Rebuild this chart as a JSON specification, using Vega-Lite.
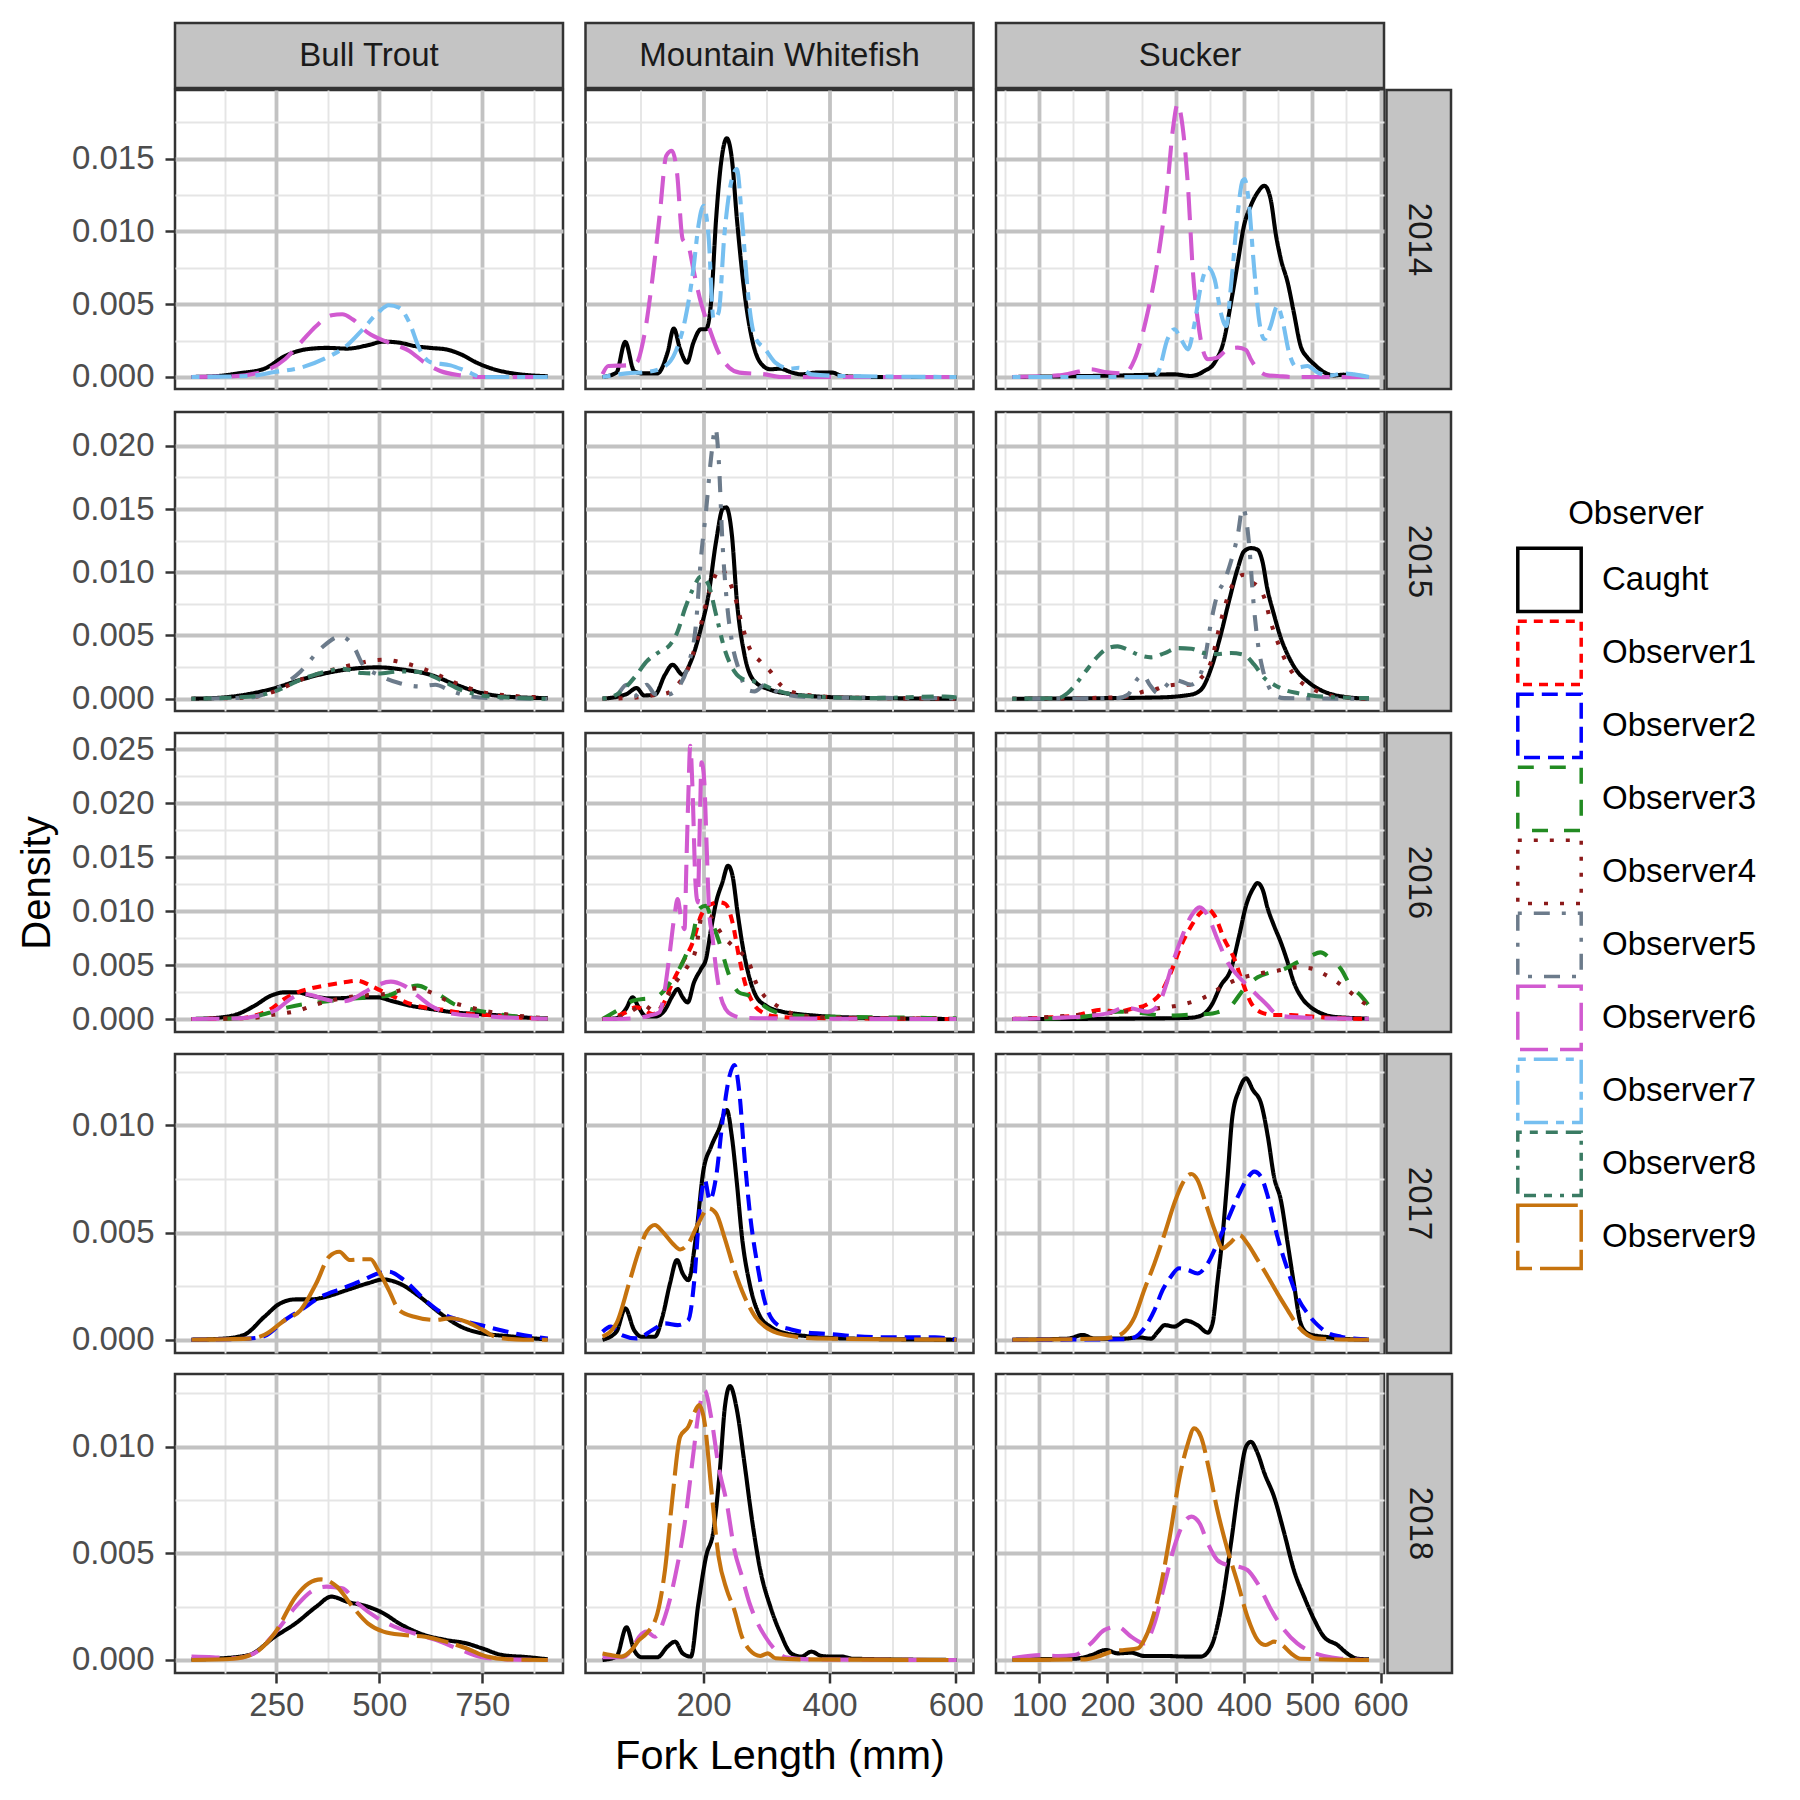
{
"$schema": "https://vega.github.io/schema/vega-lite/v6.json",
"background": "white",
"padding": {"left": 16, "top": 21, "right": 5, "bottom": 5},
"config": {
 "font": "Liberation Sans",
 "view": {"stroke": "#333333", "strokeWidth": 2.5, "fill": "white"},
 "range": {"category": ["#000000","#FF0000","#0000FF","#228B22","#8B1A1A","#6C7B8B","#D15AD0","#76BFF0","#3A7B63","#C6730E"]},
 "axis": {"labelFont": "Liberation Sans", "labelFontSize": 33, "labelColor": "#4d4d4d", "tickColor": "#333333", "tickWidth": 2.5, "tickSize": 10, "titleFont": "Liberation Sans", "titleFontSize": 40, "titleFontWeight": "normal", "titleColor": "#000000", "labelOverlap": false, "labelFlush": false, "domain": false, "grid": true},
 "axisX": {"labelPadding": 6.5, "titlePadding": 13, "titleFontSize": 41.5},
 "axisY": {"labelPadding": 11, "titlePadding": 14},
 "legend": {"orient": "none", "legendX": 1341, "legendY": 475, "padding": 0, "titleFont": "Liberation Sans", "titleFontSize": 33, "titleFontWeight": "normal", "titleColor": "#000000", "titleAnchor": "middle", "titlePadding": 15.4, "labelFont": "Liberation Sans", "labelFontSize": 33, "labelColor": "#000000", "labelOffset": 19, "symbolType": "square", "symbolSize": 4020, "symbolStrokeWidth": 3.5, "symbolFillColor": "transparent", "rowPadding": -6}
},
"datasets": {
"bt14": [
{"o":"Caught","x":44,"d":0},{"o":"Caught","x":100,"d":0.00005},{"o":"Caught","x":158,"d":0.00025},{"o":"Caught","x":221,"d":0.00057},{"o":"Caught","x":271,"d":0.00144},{"o":"Caught","x":322,"d":0.0019},{"o":"Caught","x":372,"d":0.002},{"o":"Caught","x":422,"d":0.00195},{"o":"Caught","x":472,"d":0.00218},{"o":"Caught","x":510,"d":0.00243},{"o":"Caught","x":548,"d":0.00236},{"o":"Caught","x":585,"d":0.00213},{"o":"Caught","x":623,"d":0.002},{"o":"Caught","x":661,"d":0.0019},{"o":"Caught","x":698,"d":0.00156},{"o":"Caught","x":736,"d":0.00099},{"o":"Caught","x":774,"d":0.00057},{"o":"Caught","x":824,"d":0.00025},{"o":"Caught","x":874,"d":0.0001},{"o":"Caught","x":909,"d":0.00005},
{"o":"Observer6","x":44,"d":0},{"o":"Observer6","x":146,"d":0.00005},{"o":"Observer6","x":221,"d":0.00041},{"o":"Observer6","x":271,"d":0.00122},{"o":"Observer6","x":309,"d":0.00236},{"o":"Observer6","x":347,"d":0.00351},{"o":"Observer6","x":384,"d":0.00424},{"o":"Observer6","x":410,"d":0.00431},{"o":"Observer6","x":435,"d":0.00397},{"o":"Observer6","x":472,"d":0.00305},{"o":"Observer6","x":523,"d":0.00236},{"o":"Observer6","x":573,"d":0.00179},{"o":"Observer6","x":610,"d":0.00099},{"o":"Observer6","x":648,"d":0.00041},{"o":"Observer6","x":698,"d":0.00011},{"o":"Observer6","x":749,"d":0},{"o":"Observer6","x":909,"d":0},
{"o":"Observer7","x":44,"d":0},{"o":"Observer7","x":183,"d":0.00007},{"o":"Observer7","x":246,"d":0.00034},{"o":"Observer7","x":309,"d":0.00064},{"o":"Observer7","x":372,"d":0.00133},{"o":"Observer7","x":422,"d":0.00218},{"o":"Observer7","x":460,"d":0.00328},{"o":"Observer7","x":497,"d":0.00443},{"o":"Observer7","x":523,"d":0.00493},{"o":"Observer7","x":548,"d":0.00477},{"o":"Observer7","x":573,"d":0.00374},{"o":"Observer7","x":598,"d":0.0019},{"o":"Observer7","x":623,"d":0.00103},{"o":"Observer7","x":673,"d":0.0008},{"o":"Observer7","x":711,"d":0.00041},{"o":"Observer7","x":749,"d":0},{"o":"Observer7","x":909,"d":0}
],
"mw14": [
{"o":"Caught","x":40,"d":0},{"o":"Caught","x":62,"d":0.0003},{"o":"Caught","x":76,"d":0.00241},{"o":"Caught","x":90,"d":0.00041},{"o":"Caught","x":102,"d":0.00025},{"o":"Caught","x":127,"d":0.00025},{"o":"Caught","x":143,"d":0.00167},{"o":"Caught","x":153,"d":0.00333},{"o":"Caught","x":163,"d":0.0019},{"o":"Caught","x":174,"d":0.00099},{"o":"Caught","x":184,"d":0.00236},{"o":"Caught","x":196,"d":0.00328},{"o":"Caught","x":204,"d":0.00328},{"o":"Caught","x":212,"d":0.00511},{"o":"Caught","x":220,"d":0.01085},{"o":"Caught","x":228,"d":0.01475},{"o":"Caught","x":237,"d":0.0164},{"o":"Caught","x":245,"d":0.01498},{"o":"Caught","x":253,"d":0.01085},{"o":"Caught","x":265,"d":0.0058},{"o":"Caught","x":277,"d":0.00259},{"o":"Caught","x":290,"d":0.00099},{"o":"Caught","x":306,"d":0.00053},{"o":"Caught","x":322,"d":0.00057},{"o":"Caught","x":338,"d":0.00034},{"o":"Caught","x":355,"d":0.00018},{"o":"Caught","x":379,"d":0.0003},{"o":"Caught","x":404,"d":0.0003},{"o":"Caught","x":420,"d":0.00007},{"o":"Caught","x":461,"d":0},{"o":"Caught","x":601,"d":0},
{"o":"Observer6","x":40,"d":0.0002},{"o":"Observer6","x":49,"d":0.00076},{"o":"Observer6","x":78,"d":0.0008},{"o":"Observer6","x":94,"d":0.00099},{"o":"Observer6","x":106,"d":0.00282},{"o":"Observer6","x":119,"d":0.00672},{"o":"Observer6","x":131,"d":0.01131},{"o":"Observer6","x":141,"d":0.01521},{"o":"Observer6","x":150,"d":0.01555},{"o":"Observer6","x":158,"d":0.01406},{"o":"Observer6","x":167,"d":0.00947},{"o":"Observer6","x":176,"d":0.00901},{"o":"Observer6","x":185,"d":0.00718},{"o":"Observer6","x":196,"d":0.00511},{"o":"Observer6","x":208,"d":0.00351},{"o":"Observer6","x":224,"d":0.00167},{"o":"Observer6","x":241,"d":0.00064},{"o":"Observer6","x":257,"d":0.0003},{"o":"Observer6","x":298,"d":0.00018},{"o":"Observer6","x":322,"d":0},{"o":"Observer6","x":601,"d":0},
{"o":"Observer7","x":40,"d":0},{"o":"Observer7","x":78,"d":0.00025},{"o":"Observer7","x":110,"d":0.00034},{"o":"Observer7","x":135,"d":0.00064},{"o":"Observer7","x":155,"d":0.00167},{"o":"Observer7","x":171,"d":0.00397},{"o":"Observer7","x":184,"d":0.00741},{"o":"Observer7","x":192,"d":0.01039},{"o":"Observer7","x":200,"d":0.01177},{"o":"Observer7","x":208,"d":0.0097},{"o":"Observer7","x":216,"d":0.00397},{"o":"Observer7","x":224,"d":0.00443},{"o":"Observer7","x":233,"d":0.0097},{"o":"Observer7","x":245,"d":0.0136},{"o":"Observer7","x":253,"d":0.01429},{"o":"Observer7","x":261,"d":0.01085},{"o":"Observer7","x":272,"d":0.00511},{"o":"Observer7","x":281,"d":0.00282},{"o":"Observer7","x":298,"d":0.0019},{"o":"Observer7","x":314,"d":0.00099},{"o":"Observer7","x":338,"d":0.00057},{"o":"Observer7","x":351,"d":0.00064},{"o":"Observer7","x":371,"d":0.00018},{"o":"Observer7","x":420,"d":0.00007},{"o":"Observer7","x":601,"d":0}
],
"su14": [
{"o":"Caught","x":61,"d":0},{"o":"Caught","x":225,"d":0.00011},{"o":"Caught","x":298,"d":0.00018},{"o":"Caught","x":322,"d":0.00007},{"o":"Caught","x":342,"d":0.00041},{"o":"Caught","x":357,"d":0.00099},{"o":"Caught","x":371,"d":0.00259},{"o":"Caught","x":381,"d":0.00511},{"o":"Caught","x":391,"d":0.00787},{"o":"Caught","x":400,"d":0.01039},{"o":"Caught","x":410,"d":0.01177},{"o":"Caught","x":420,"d":0.01268},{"o":"Caught","x":430,"d":0.01314},{"o":"Caught","x":439,"d":0.01222},{"o":"Caught","x":447,"d":0.0097},{"o":"Caught","x":454,"d":0.0081},{"o":"Caught","x":464,"d":0.00649},{"o":"Caught","x":473,"d":0.00443},{"o":"Caught","x":483,"d":0.00213},{"o":"Caught","x":493,"d":0.00133},{"o":"Caught","x":503,"d":0.00087},{"o":"Caught","x":517,"d":0.00034},{"o":"Caught","x":532,"d":0.00011},{"o":"Caught","x":546,"d":0.00016},{"o":"Caught","x":561,"d":0.00002},{"o":"Caught","x":583,"d":0},
{"o":"Observer6","x":61,"d":0},{"o":"Observer6","x":128,"d":0.00011},{"o":"Observer6","x":147,"d":0.00025},{"o":"Observer6","x":176,"d":0.00053},{"o":"Observer6","x":196,"d":0.00034},{"o":"Observer6","x":225,"d":0.00025},{"o":"Observer6","x":240,"d":0.00122},{"o":"Observer6","x":259,"d":0.00443},{"o":"Observer6","x":274,"d":0.0081},{"o":"Observer6","x":288,"d":0.01314},{"o":"Observer6","x":296,"d":0.01704},{"o":"Observer6","x":303,"d":0.01876},{"o":"Observer6","x":310,"d":0.01727},{"o":"Observer6","x":318,"d":0.01314},{"o":"Observer6","x":325,"d":0.00741},{"o":"Observer6","x":335,"d":0.00305},{"o":"Observer6","x":347,"d":0.00122},{"o":"Observer6","x":361,"d":0.00133},{"o":"Observer6","x":376,"d":0.0019},{"o":"Observer6","x":391,"d":0.00202},{"o":"Observer6","x":403,"d":0.00186},{"o":"Observer6","x":410,"d":0.00122},{"o":"Observer6","x":420,"d":0.00053},{"o":"Observer6","x":435,"d":0.00011},{"o":"Observer6","x":449,"d":0.00007},{"o":"Observer6","x":470,"d":0},{"o":"Observer6","x":583,"d":0},
{"o":"Observer7","x":61,"d":0},{"o":"Observer7","x":264,"d":0},{"o":"Observer7","x":274,"d":0.0003},{"o":"Observer7","x":288,"d":0.00259},{"o":"Observer7","x":298,"d":0.00328},{"o":"Observer7","x":308,"d":0.00259},{"o":"Observer7","x":318,"d":0.0019},{"o":"Observer7","x":327,"d":0.00351},{"o":"Observer7","x":337,"d":0.00626},{"o":"Observer7","x":347,"d":0.00752},{"o":"Observer7","x":357,"d":0.00672},{"o":"Observer7","x":366,"d":0.00443},{"o":"Observer7","x":374,"d":0.00351},{"o":"Observer7","x":381,"d":0.00626},{"o":"Observer7","x":391,"d":0.01131},{"o":"Observer7","x":398,"d":0.01349},{"o":"Observer7","x":401,"d":0.0136},{"o":"Observer7","x":406,"d":0.01245},{"o":"Observer7","x":415,"d":0.00741},{"o":"Observer7","x":422,"d":0.00397},{"o":"Observer7","x":430,"d":0.00259},{"o":"Observer7","x":439,"d":0.00351},{"o":"Observer7","x":449,"d":0.00489},{"o":"Observer7","x":456,"d":0.00397},{"o":"Observer7","x":466,"d":0.00167},{"o":"Observer7","x":478,"d":0.00064},{"o":"Observer7","x":493,"d":0.00076},{"o":"Observer7","x":508,"d":0.0003},{"o":"Observer7","x":527,"d":0.00011},{"o":"Observer7","x":546,"d":0.00025},{"o":"Observer7","x":561,"d":0.00018},{"o":"Observer7","x":583,"d":0}
],
"bt15": [
{"o":"Caught","x":44,"d":0},{"o":"Caught","x":121,"d":0.0001},{"o":"Caught","x":183,"d":0.00037},{"o":"Caught","x":246,"d":0.00084},{"o":"Caught","x":309,"d":0.0015},{"o":"Caught","x":372,"d":0.00203},{"o":"Caught","x":435,"d":0.00237},{"o":"Caught","x":497,"d":0.00248},{"o":"Caught","x":560,"d":0.00229},{"o":"Caught","x":623,"d":0.0019},{"o":"Caught","x":686,"d":0.00111},{"o":"Caught","x":749,"d":0.00045},{"o":"Caught","x":811,"d":0.00016},{"o":"Caught","x":909,"d":0.00005},
{"o":"Observer4","x":44,"d":0},{"o":"Observer4","x":183,"d":0.0001},{"o":"Observer4","x":246,"d":0.00058},{"o":"Observer4","x":309,"d":0.0015},{"o":"Observer4","x":372,"d":0.00216},{"o":"Observer4","x":435,"d":0.00269},{"o":"Observer4","x":510,"d":0.00308},{"o":"Observer4","x":560,"d":0.00282},{"o":"Observer4","x":623,"d":0.00216},{"o":"Observer4","x":686,"d":0.00124},{"o":"Observer4","x":749,"d":0.00053},{"o":"Observer4","x":811,"d":0.00026},{"o":"Observer4","x":909,"d":0.0001},
{"o":"Observer5","x":44,"d":0},{"o":"Observer5","x":183,"d":0.0001},{"o":"Observer5","x":246,"d":0.00071},{"o":"Observer5","x":309,"d":0.00216},{"o":"Observer5","x":359,"d":0.004},{"o":"Observer5","x":406,"d":0.00493},{"o":"Observer5","x":440,"d":0.004},{"o":"Observer5","x":460,"d":0.00269},{"o":"Observer5","x":497,"d":0.0019},{"o":"Observer5","x":548,"d":0.00124},{"o":"Observer5","x":598,"d":0.00097},{"o":"Observer5","x":636,"d":0.00111},{"o":"Observer5","x":673,"d":0.00063},{"o":"Observer5","x":711,"d":0.00026},{"o":"Observer5","x":774,"d":0.00005},{"o":"Observer5","x":909,"d":0},
{"o":"Observer8","x":44,"d":0},{"o":"Observer8","x":183,"d":0.00016},{"o":"Observer8","x":246,"d":0.00058},{"o":"Observer8","x":309,"d":0.0015},{"o":"Observer8","x":372,"d":0.00216},{"o":"Observer8","x":409,"d":0.00237},{"o":"Observer8","x":460,"d":0.00203},{"o":"Observer8","x":497,"d":0.002},{"o":"Observer8","x":548,"d":0.00216},{"o":"Observer8","x":598,"d":0.00211},{"o":"Observer8","x":648,"d":0.0015},{"o":"Observer8","x":698,"d":0.00071},{"o":"Observer8","x":749,"d":0.00026},{"o":"Observer8","x":811,"d":0.0001},{"o":"Observer8","x":909,"d":0}
],
"mw15": [
{"o":"Caught","x":40,"d":0},{"o":"Caught","x":78,"d":0.00037},{"o":"Caught","x":94,"d":0.00084},{"o":"Caught","x":106,"d":0.00026},{"o":"Caught","x":123,"d":0.00032},{"o":"Caught","x":139,"d":0.0019},{"o":"Caught","x":151,"d":0.00269},{"o":"Caught","x":167,"d":0.0019},{"o":"Caught","x":180,"d":0.00295},{"o":"Caught","x":196,"d":0.00559},{"o":"Caught","x":208,"d":0.00822},{"o":"Caught","x":220,"d":0.01244},{"o":"Caught","x":231,"d":0.01507},{"o":"Caught","x":236,"d":0.01513},{"o":"Caught","x":245,"d":0.01296},{"o":"Caught","x":253,"d":0.00769},{"o":"Caught","x":265,"d":0.00348},{"o":"Caught","x":281,"d":0.00137},{"o":"Caught","x":306,"d":0.00071},{"o":"Caught","x":338,"d":0.00037},{"o":"Caught","x":379,"d":0.00018},{"o":"Caught","x":420,"d":0.0001},{"o":"Caught","x":601,"d":0},
{"o":"Observer4","x":40,"d":0},{"o":"Observer4","x":94,"d":0.0001},{"o":"Observer4","x":127,"d":0.00032},{"o":"Observer4","x":143,"d":0.00045},{"o":"Observer4","x":159,"d":0.00111},{"o":"Observer4","x":176,"d":0.00243},{"o":"Observer4","x":192,"d":0.00506},{"o":"Observer4","x":208,"d":0.00822},{"o":"Observer4","x":228,"d":0.01033},{"o":"Observer4","x":237,"d":0.00967},{"o":"Observer4","x":249,"d":0.00822},{"o":"Observer4","x":261,"d":0.00585},{"o":"Observer4","x":273,"d":0.004},{"o":"Observer4","x":290,"d":0.00295},{"o":"Observer4","x":306,"d":0.00216},{"o":"Observer4","x":322,"d":0.00111},{"o":"Observer4","x":338,"d":0.00058},{"o":"Observer4","x":371,"d":0.00026},{"o":"Observer4","x":420,"d":0.0001},{"o":"Observer4","x":601,"d":0},
{"o":"Observer5","x":40,"d":0},{"o":"Observer5","x":62,"d":0.00026},{"o":"Observer5","x":78,"d":0.00111},{"o":"Observer5","x":90,"d":0.00018},{"o":"Observer5","x":110,"d":0.00111},{"o":"Observer5","x":123,"d":0.00037},{"o":"Observer5","x":143,"d":0.00032},{"o":"Observer5","x":163,"d":0.00111},{"o":"Observer5","x":176,"d":0.00269},{"o":"Observer5","x":188,"d":0.00585},{"o":"Observer5","x":196,"d":0.01112},{"o":"Observer5","x":204,"d":0.01481},{"o":"Observer5","x":212,"d":0.01903},{"o":"Observer5","x":219,"d":0.0214},{"o":"Observer5","x":224,"d":0.01903},{"o":"Observer5","x":230,"d":0.01244},{"o":"Observer5","x":237,"d":0.00769},{"o":"Observer5","x":245,"d":0.00453},{"o":"Observer5","x":257,"d":0.00216},{"o":"Observer5","x":269,"d":0.00071},{"o":"Observer5","x":281,"d":0.00058},{"o":"Observer5","x":298,"d":0.00111},{"o":"Observer5","x":314,"d":0.00063},{"o":"Observer5","x":338,"d":0.00026},{"o":"Observer5","x":379,"d":0.0001},{"o":"Observer5","x":601,"d":0.00005},
{"o":"Observer8","x":40,"d":0},{"o":"Observer8","x":62,"d":0.00032},{"o":"Observer8","x":78,"d":0.00097},{"o":"Observer8","x":94,"d":0.0019},{"o":"Observer8","x":110,"d":0.00295},{"o":"Observer8","x":131,"d":0.00374},{"o":"Observer8","x":147,"d":0.00427},{"o":"Observer8","x":159,"d":0.00532},{"o":"Observer8","x":171,"d":0.00717},{"o":"Observer8","x":184,"d":0.00875},{"o":"Observer8","x":196,"d":0.00967},{"o":"Observer8","x":208,"d":0.00901},{"o":"Observer8","x":220,"d":0.00664},{"o":"Observer8","x":233,"d":0.004},{"o":"Observer8","x":249,"d":0.00216},{"o":"Observer8","x":265,"d":0.0015},{"o":"Observer8","x":281,"d":0.00137},{"o":"Observer8","x":306,"d":0.00084},{"o":"Observer8","x":338,"d":0.00037},{"o":"Observer8","x":379,"d":0.00016},{"o":"Observer8","x":461,"d":0.00005},{"o":"Observer8","x":583,"d":0.00018},{"o":"Observer8","x":601,"d":0.0001}
],
"su15": [
{"o":"Caught","x":61,"d":0},{"o":"Caught","x":274,"d":0.0001},{"o":"Caught","x":322,"d":0.00032},{"o":"Caught","x":337,"d":0.00071},{"o":"Caught","x":352,"d":0.00242},{"o":"Caught","x":366,"d":0.00506},{"o":"Caught","x":378,"d":0.0077},{"o":"Caught","x":391,"d":0.01033},{"o":"Caught","x":400,"d":0.01165},{"o":"Caught","x":410,"d":0.01191},{"o":"Caught","x":420,"d":0.01178},{"o":"Caught","x":427,"d":0.01086},{"o":"Caught","x":434,"d":0.00875},{"o":"Caught","x":444,"d":0.00664},{"o":"Caught","x":454,"d":0.0048},{"o":"Caught","x":464,"d":0.00348},{"o":"Caught","x":478,"d":0.00216},{"o":"Caught","x":493,"d":0.00137},{"o":"Caught","x":507,"d":0.00084},{"o":"Caught","x":527,"d":0.00037},{"o":"Caught","x":546,"d":0.00016},{"o":"Caught","x":583,"d":0},
{"o":"Observer4","x":61,"d":0},{"o":"Observer4","x":215,"d":0.0001},{"o":"Observer4","x":240,"d":0.00032},{"o":"Observer4","x":254,"d":0.00058},{"o":"Observer4","x":264,"d":0.00063},{"o":"Observer4","x":283,"d":0.00097},{"o":"Observer4","x":303,"d":0.00111},{"o":"Observer4","x":322,"d":0.00111},{"o":"Observer4","x":337,"d":0.00163},{"o":"Observer4","x":352,"d":0.00295},{"o":"Observer4","x":366,"d":0.00611},{"o":"Observer4","x":381,"d":0.00875},{"o":"Observer4","x":393,"d":0.00967},{"o":"Observer4","x":400,"d":0.0098},{"o":"Observer4","x":410,"d":0.00928},{"o":"Observer4","x":420,"d":0.00888},{"o":"Observer4","x":430,"d":0.00796},{"o":"Observer4","x":439,"d":0.00611},{"o":"Observer4","x":449,"d":0.00453},{"o":"Observer4","x":459,"d":0.00321},{"o":"Observer4","x":473,"d":0.0019},{"o":"Observer4","x":488,"d":0.00111},{"o":"Observer4","x":503,"d":0.00071},{"o":"Observer4","x":517,"d":0.00037},{"o":"Observer4","x":537,"d":0.00016},{"o":"Observer4","x":583,"d":0},
{"o":"Observer5","x":61,"d":0},{"o":"Observer5","x":215,"d":0.00005},{"o":"Observer5","x":230,"d":0.00032},{"o":"Observer5","x":245,"d":0.00163},{"o":"Observer5","x":252,"d":0.0019},{"o":"Observer5","x":262,"d":0.00111},{"o":"Observer5","x":274,"d":0.00045},{"o":"Observer5","x":283,"d":0.00084},{"o":"Observer5","x":296,"d":0.0015},{"o":"Observer5","x":308,"d":0.00137},{"o":"Observer5","x":322,"d":0.00111},{"o":"Observer5","x":332,"d":0.0015},{"o":"Observer5","x":342,"d":0.00295},{"o":"Observer5","x":352,"d":0.00611},{"o":"Observer5","x":361,"d":0.00822},{"o":"Observer5","x":371,"d":0.00928},{"o":"Observer5","x":381,"d":0.01086},{"o":"Observer5","x":391,"d":0.01296},{"o":"Observer5","x":398,"d":0.01507},{"o":"Observer5","x":403,"d":0.01428},{"o":"Observer5","x":408,"d":0.01191},{"o":"Observer5","x":413,"d":0.00822},{"o":"Observer5","x":420,"d":0.00453},{"o":"Observer5","x":427,"d":0.00242},{"o":"Observer5","x":435,"d":0.00111},{"o":"Observer5","x":444,"d":0.00032},{"o":"Observer5","x":459,"d":0.00005},{"o":"Observer5","x":583,"d":0},
{"o":"Observer8","x":61,"d":0},{"o":"Observer8","x":128,"d":0.00005},{"o":"Observer8","x":142,"d":0.00045},{"o":"Observer8","x":157,"d":0.00137},{"o":"Observer8","x":172,"d":0.00242},{"o":"Observer8","x":186,"d":0.00335},{"o":"Observer8","x":201,"d":0.004},{"o":"Observer8","x":215,"d":0.00414},{"o":"Observer8","x":230,"d":0.00387},{"o":"Observer8","x":245,"d":0.00348},{"o":"Observer8","x":264,"d":0.00327},{"o":"Observer8","x":284,"d":0.00361},{"o":"Observer8","x":303,"d":0.004},{"o":"Observer8","x":323,"d":0.00395},{"o":"Observer8","x":342,"d":0.00361},{"o":"Observer8","x":361,"d":0.00353},{"o":"Observer8","x":381,"d":0.00361},{"o":"Observer8","x":400,"d":0.00348},{"o":"Observer8","x":415,"d":0.00269},{"o":"Observer8","x":430,"d":0.00163},{"o":"Observer8","x":444,"d":0.00111},{"o":"Observer8","x":459,"d":0.00071},{"o":"Observer8","x":478,"d":0.00045},{"o":"Observer8","x":498,"d":0.00026},{"o":"Observer8","x":517,"d":0.00016},{"o":"Observer8","x":583,"d":0.00005}
],
"bt16": [
{"o":"Caught","x":44,"d":0},{"o":"Caught","x":116,"d":0.00015},{"o":"Caught","x":156,"d":0.00046},{"o":"Caught","x":197,"d":0.00123},{"o":"Caught","x":237,"d":0.00216},{"o":"Caught","x":269,"d":0.00247},{"o":"Caught","x":302,"d":0.00247},{"o":"Caught","x":334,"d":0.00216},{"o":"Caught","x":383,"d":0.00191},{"o":"Caught","x":439,"d":0.00198},{"o":"Caught","x":496,"d":0.00201},{"o":"Caught","x":528,"d":0.0017},{"o":"Caught","x":576,"d":0.00123},{"o":"Caught","x":625,"d":0.00093},{"o":"Caught","x":681,"d":0.00062},{"o":"Caught","x":738,"d":0.00046},{"o":"Caught","x":803,"d":0.00031},{"o":"Caught","x":851,"d":0.00015},{"o":"Caught","x":909,"d":0.00006},
{"o":"Observer1","x":44,"d":0},{"o":"Observer1","x":156,"d":0.00006},{"o":"Observer1","x":197,"d":0.00031},{"o":"Observer1","x":237,"d":0.00093},{"o":"Observer1","x":269,"d":0.00185},{"o":"Observer1","x":302,"d":0.00247},{"o":"Observer1","x":334,"d":0.00284},{"o":"Observer1","x":374,"d":0.00315},{"o":"Observer1","x":415,"d":0.0034},{"o":"Observer1","x":447,"d":0.00355},{"o":"Observer1","x":479,"d":0.00309},{"o":"Observer1","x":512,"d":0.00247},{"o":"Observer1","x":544,"d":0.00191},{"o":"Observer1","x":576,"d":0.00139},{"o":"Observer1","x":609,"d":0.00108},{"o":"Observer1","x":641,"d":0.00093},{"o":"Observer1","x":681,"d":0.00068},{"o":"Observer1","x":722,"d":0.00046},{"o":"Observer1","x":762,"d":0.00037},{"o":"Observer1","x":803,"d":0.00025},{"o":"Observer1","x":851,"d":0.00012},{"o":"Observer1","x":909,"d":0.00003},
{"o":"Observer3","x":44,"d":0},{"o":"Observer3","x":156,"d":0.00006},{"o":"Observer3","x":205,"d":0.00031},{"o":"Observer3","x":237,"d":0.00062},{"o":"Observer3","x":278,"d":0.00108},{"o":"Observer3","x":318,"d":0.00139},{"o":"Observer3","x":342,"d":0.00148},{"o":"Observer3","x":383,"d":0.0017},{"o":"Observer3","x":439,"d":0.00191},{"o":"Observer3","x":479,"d":0.00201},{"o":"Observer3","x":520,"d":0.00216},{"o":"Observer3","x":560,"d":0.00278},{"o":"Observer3","x":593,"d":0.00309},{"o":"Observer3","x":625,"d":0.00262},{"o":"Observer3","x":649,"d":0.00216},{"o":"Observer3","x":681,"d":0.00139},{"o":"Observer3","x":722,"d":0.00093},{"o":"Observer3","x":762,"d":0.00062},{"o":"Observer3","x":803,"d":0.00037},{"o":"Observer3","x":851,"d":0.00019},{"o":"Observer3","x":909,"d":0.00003},
{"o":"Observer4","x":44,"d":0},{"o":"Observer4","x":197,"d":0.00012},{"o":"Observer4","x":237,"d":0.00037},{"o":"Observer4","x":302,"d":0.00077},{"o":"Observer4","x":350,"d":0.00139},{"o":"Observer4","x":399,"d":0.00185},{"o":"Observer4","x":455,"d":0.00216},{"o":"Observer4","x":512,"d":0.00231},{"o":"Observer4","x":560,"d":0.00272},{"o":"Observer4","x":593,"d":0.00284},{"o":"Observer4","x":625,"d":0.00247},{"o":"Observer4","x":665,"d":0.0017},{"o":"Observer4","x":706,"d":0.00123},{"o":"Observer4","x":754,"d":0.00077},{"o":"Observer4","x":803,"d":0.00046},{"o":"Observer4","x":851,"d":0.00025},{"o":"Observer4","x":909,"d":0.00006},
{"o":"Observer6","x":44,"d":0},{"o":"Observer6","x":156,"d":0.00006},{"o":"Observer6","x":205,"d":0.00031},{"o":"Observer6","x":253,"d":0.00093},{"o":"Observer6","x":286,"d":0.00191},{"o":"Observer6","x":310,"d":0.00231},{"o":"Observer6","x":334,"d":0.00222},{"o":"Observer6","x":366,"d":0.00185},{"o":"Observer6","x":399,"d":0.0016},{"o":"Observer6","x":431,"d":0.00179},{"o":"Observer6","x":463,"d":0.00247},{"o":"Observer6","x":496,"d":0.00315},{"o":"Observer6","x":528,"d":0.00346},{"o":"Observer6","x":560,"d":0.00309},{"o":"Observer6","x":593,"d":0.00216},{"o":"Observer6","x":625,"d":0.00123},{"o":"Observer6","x":657,"d":0.00068},{"o":"Observer6","x":706,"d":0.00037},{"o":"Observer6","x":762,"d":0.00025},{"o":"Observer6","x":843,"d":0.00009},{"o":"Observer6","x":909,"d":0.00003}
],
"mw16": [
{"o":"Caught","x":40,"d":0},{"o":"Caught","x":61,"d":0.00006},{"o":"Caught","x":77,"d":0.00093},{"o":"Caught","x":88,"d":0.00201},{"o":"Caught","x":96,"d":0.00123},{"o":"Caught","x":109,"d":0.00025},{"o":"Caught","x":125,"d":0.00025},{"o":"Caught","x":138,"d":0.00077},{"o":"Caught","x":151,"d":0.00216},{"o":"Caught","x":159,"d":0.00278},{"o":"Caught","x":167,"d":0.00201},{"o":"Caught","x":175,"d":0.00154},{"o":"Caught","x":185,"d":0.0034},{"o":"Caught","x":196,"d":0.00463},{"o":"Caught","x":204,"d":0.00556},{"o":"Caught","x":212,"d":0.00833},{"o":"Caught","x":220,"d":0.0108},{"o":"Caught","x":230,"d":0.01265},{"o":"Caught","x":239,"d":0.0142},{"o":"Caught","x":246,"d":0.01327},{"o":"Caught","x":254,"d":0.00988},{"o":"Caught","x":262,"d":0.00679},{"o":"Caught","x":272,"d":0.00401},{"o":"Caught","x":283,"d":0.00216},{"o":"Caught","x":299,"d":0.00123},{"o":"Caught","x":325,"d":0.00068},{"o":"Caught","x":351,"d":0.00046},{"o":"Caught","x":378,"d":0.00031},{"o":"Caught","x":430,"d":0.00015},{"o":"Caught","x":601,"d":0},
{"o":"Observer1","x":40,"d":0},{"o":"Observer1","x":61,"d":0.00025},{"o":"Observer1","x":77,"d":0.00062},{"o":"Observer1","x":93,"d":0.00108},{"o":"Observer1","x":104,"d":0.00093},{"o":"Observer1","x":119,"d":0.00046},{"o":"Observer1","x":135,"d":0.00123},{"o":"Observer1","x":151,"d":0.0034},{"o":"Observer1","x":167,"d":0.00525},{"o":"Observer1","x":183,"d":0.0071},{"o":"Observer1","x":196,"d":0.00957},{"o":"Observer1","x":209,"d":0.01056},{"o":"Observer1","x":225,"d":0.0108},{"o":"Observer1","x":235,"d":0.01065},{"o":"Observer1","x":246,"d":0.00895},{"o":"Observer1","x":256,"d":0.00586},{"o":"Observer1","x":267,"d":0.00309},{"o":"Observer1","x":278,"d":0.00154},{"o":"Observer1","x":293,"d":0.00062},{"o":"Observer1","x":314,"d":0.00025},{"o":"Observer1","x":351,"d":0.00012},{"o":"Observer1","x":601,"d":0},
{"o":"Observer3","x":40,"d":0},{"o":"Observer3","x":51,"d":0.00037},{"o":"Observer3","x":67,"d":0.00093},{"o":"Observer3","x":88,"d":0.0017},{"o":"Observer3","x":104,"d":0.00185},{"o":"Observer3","x":119,"d":0.00191},{"o":"Observer3","x":135,"d":0.00247},{"o":"Observer3","x":151,"d":0.0037},{"o":"Observer3","x":167,"d":0.00525},{"o":"Observer3","x":183,"d":0.00772},{"o":"Observer3","x":193,"d":0.01019},{"o":"Observer3","x":204,"d":0.01049},{"o":"Observer3","x":214,"d":0.00895},{"o":"Observer3","x":225,"d":0.0071},{"o":"Observer3","x":241,"d":0.00401},{"o":"Observer3","x":256,"d":0.00247},{"o":"Observer3","x":272,"d":0.00216},{"o":"Observer3","x":288,"d":0.00154},{"o":"Observer3","x":309,"d":0.00077},{"o":"Observer3","x":335,"d":0.00037},{"o":"Observer3","x":378,"d":0.00025},{"o":"Observer3","x":430,"d":0.00019},{"o":"Observer3","x":535,"d":0.00012},{"o":"Observer3","x":601,"d":0.00006},
{"o":"Observer4","x":40,"d":0},{"o":"Observer4","x":61,"d":0.00012},{"o":"Observer4","x":83,"d":0.00062},{"o":"Observer4","x":104,"d":0.0013},{"o":"Observer4","x":125,"d":0.00062},{"o":"Observer4","x":140,"d":0.00185},{"o":"Observer4","x":156,"d":0.0034},{"o":"Observer4","x":172,"d":0.00463},{"o":"Observer4","x":188,"d":0.00648},{"o":"Observer4","x":198,"d":0.00957},{"o":"Observer4","x":209,"d":0.00957},{"o":"Observer4","x":220,"d":0.00864},{"o":"Observer4","x":233,"d":0.00756},{"o":"Observer4","x":246,"d":0.00679},{"o":"Observer4","x":259,"d":0.00617},{"o":"Observer4","x":272,"d":0.00525},{"o":"Observer4","x":283,"d":0.0034},{"o":"Observer4","x":296,"d":0.00216},{"o":"Observer4","x":309,"d":0.00154},{"o":"Observer4","x":325,"d":0.00093},{"o":"Observer4","x":351,"d":0.00037},{"o":"Observer4","x":388,"d":0.00015},{"o":"Observer4","x":601,"d":0.00003},
{"o":"Observer6","x":40,"d":0},{"o":"Observer6","x":88,"d":0.00006},{"o":"Observer6","x":114,"d":0.00031},{"o":"Observer6","x":130,"d":0.00062},{"o":"Observer6","x":138,"d":0.00247},{"o":"Observer6","x":146,"d":0.00586},{"o":"Observer6","x":154,"d":0.00957},{"o":"Observer6","x":159,"d":0.01111},{"o":"Observer6","x":164,"d":0.00957},{"o":"Observer6","x":170,"d":0.00833},{"o":"Observer6","x":173,"d":0.01451},{"o":"Observer6","x":176,"d":0.02068},{"o":"Observer6","x":179,"d":0.02531},{"o":"Observer6","x":183,"d":0.02068},{"o":"Observer6","x":187,"d":0.01296},{"o":"Observer6","x":191,"d":0.0108},{"o":"Observer6","x":194,"d":0.01759},{"o":"Observer6","x":197,"d":0.02377},{"o":"Observer6","x":201,"d":0.02222},{"o":"Observer6","x":205,"d":0.01605},{"o":"Observer6","x":209,"d":0.00988},{"o":"Observer6","x":214,"d":0.00772},{"o":"Observer6","x":220,"d":0.00463},{"o":"Observer6","x":227,"d":0.00216},{"o":"Observer6","x":235,"d":0.00093},{"o":"Observer6","x":246,"d":0.00037},{"o":"Observer6","x":262,"d":0.00012},{"o":"Observer6","x":320,"d":0.00006},{"o":"Observer6","x":601,"d":0}
],
"su16": [
{"o":"Caught","x":61,"d":0},{"o":"Caught","x":274,"d":0.00006},{"o":"Caught","x":322,"d":0.00012},{"o":"Caught","x":337,"d":0.00031},{"o":"Caught","x":352,"d":0.00123},{"o":"Caught","x":366,"d":0.00309},{"o":"Caught","x":381,"d":0.00463},{"o":"Caught","x":393,"d":0.00772},{"o":"Caught","x":403,"d":0.01049},{"o":"Caught","x":413,"d":0.01204},{"o":"Caught","x":420,"d":0.01259},{"o":"Caught","x":427,"d":0.01204},{"o":"Caught","x":435,"d":0.01019},{"o":"Caught","x":444,"d":0.00864},{"o":"Caught","x":454,"d":0.0071},{"o":"Caught","x":464,"d":0.00525},{"o":"Caught","x":473,"d":0.0034},{"o":"Caught","x":486,"d":0.00185},{"o":"Caught","x":498,"d":0.00108},{"o":"Caught","x":512,"d":0.00056},{"o":"Caught","x":527,"d":0.00025},{"o":"Caught","x":551,"d":0.00012},{"o":"Caught","x":583,"d":0.00003},
{"o":"Observer1","x":61,"d":0},{"o":"Observer1","x":104,"d":0.00012},{"o":"Observer1","x":152,"d":0.00031},{"o":"Observer1","x":191,"d":0.00086},{"o":"Observer1","x":215,"d":0.00068},{"o":"Observer1","x":235,"d":0.00093},{"o":"Observer1","x":259,"d":0.00139},{"o":"Observer1","x":279,"d":0.00247},{"o":"Observer1","x":293,"d":0.00432},{"o":"Observer1","x":308,"d":0.00679},{"o":"Observer1","x":323,"d":0.00864},{"o":"Observer1","x":337,"d":0.00988},{"o":"Observer1","x":347,"d":0.01019},{"o":"Observer1","x":357,"d":0.00957},{"o":"Observer1","x":371,"d":0.00741},{"o":"Observer1","x":386,"d":0.00556},{"o":"Observer1","x":398,"d":0.0034},{"o":"Observer1","x":410,"d":0.00154},{"o":"Observer1","x":425,"d":0.00062},{"o":"Observer1","x":444,"d":0.00037},{"o":"Observer1","x":469,"d":0.00037},{"o":"Observer1","x":493,"d":0.00025},{"o":"Observer1","x":517,"d":0.00015},{"o":"Observer1","x":546,"d":0.00006},{"o":"Observer1","x":583,"d":0},
{"o":"Observer3","x":61,"d":0},{"o":"Observer3","x":152,"d":0.00012},{"o":"Observer3","x":176,"d":0.00031},{"o":"Observer3","x":215,"d":0.00068},{"o":"Observer3","x":250,"d":0.00056},{"o":"Observer3","x":284,"d":0.00031},{"o":"Observer3","x":313,"d":0.00037},{"o":"Observer3","x":332,"d":0.00043},{"o":"Observer3","x":347,"d":0.00046},{"o":"Observer3","x":361,"d":0.00062},{"o":"Observer3","x":381,"d":0.00123},{"o":"Observer3","x":400,"d":0.00278},{"o":"Observer3","x":420,"d":0.00386},{"o":"Observer3","x":439,"d":0.00432},{"o":"Observer3","x":459,"d":0.00463},{"o":"Observer3","x":478,"d":0.00525},{"o":"Observer3","x":498,"d":0.00586},{"o":"Observer3","x":512,"d":0.00617},{"o":"Observer3","x":527,"d":0.00556},{"o":"Observer3","x":542,"d":0.00463},{"o":"Observer3","x":556,"d":0.00309},{"o":"Observer3","x":571,"d":0.00216},{"o":"Observer3","x":583,"d":0.00123},
{"o":"Observer4","x":61,"d":0},{"o":"Observer4","x":129,"d":0.00025},{"o":"Observer4","x":176,"d":0.00046},{"o":"Observer4","x":225,"d":0.00068},{"o":"Observer4","x":274,"d":0.00099},{"o":"Observer4","x":313,"d":0.00139},{"o":"Observer4","x":342,"d":0.00201},{"o":"Observer4","x":371,"d":0.00309},{"o":"Observer4","x":391,"d":0.0037},{"o":"Observer4","x":420,"d":0.00417},{"o":"Observer4","x":449,"d":0.00448},{"o":"Observer4","x":478,"d":0.00478},{"o":"Observer4","x":498,"d":0.00469},{"o":"Observer4","x":517,"d":0.00417},{"o":"Observer4","x":537,"d":0.0034},{"o":"Observer4","x":556,"d":0.00247},{"o":"Observer4","x":571,"d":0.0017},{"o":"Observer4","x":583,"d":0.00117},
{"o":"Observer6","x":61,"d":0},{"o":"Observer6","x":129,"d":0.00012},{"o":"Observer6","x":176,"d":0.00031},{"o":"Observer6","x":206,"d":0.00062},{"o":"Observer6","x":225,"d":0.00108},{"o":"Observer6","x":240,"d":0.00093},{"o":"Observer6","x":259,"d":0.00068},{"o":"Observer6","x":274,"d":0.00123},{"o":"Observer6","x":284,"d":0.00278},{"o":"Observer6","x":296,"d":0.00525},{"o":"Observer6","x":308,"d":0.00741},{"o":"Observer6","x":323,"d":0.00957},{"o":"Observer6","x":335,"d":0.01034},{"o":"Observer6","x":347,"d":0.00957},{"o":"Observer6","x":361,"d":0.00741},{"o":"Observer6","x":376,"d":0.00525},{"o":"Observer6","x":391,"d":0.00401},{"o":"Observer6","x":405,"d":0.00309},{"o":"Observer6","x":420,"d":0.00216},{"o":"Observer6","x":435,"d":0.00123},{"o":"Observer6","x":444,"d":0.00062},{"o":"Observer6","x":459,"d":0.00025},{"o":"Observer6","x":493,"d":0.00012},{"o":"Observer6","x":583,"d":0.00003}
],
"bt17": [
{"o":"Caught","x":44,"d":0},{"o":"Caught","x":121,"d":0.00005},{"o":"Caught","x":171,"d":0.00022},{"o":"Caught","x":221,"d":0.00107},{"o":"Caught","x":259,"d":0.00169},{"o":"Caught","x":297,"d":0.00188},{"o":"Caught","x":334,"d":0.00188},{"o":"Caught","x":372,"d":0.00201},{"o":"Caught","x":422,"d":0.00232},{"o":"Caught","x":472,"d":0.00263},{"o":"Caught","x":510,"d":0.00281},{"o":"Caught","x":548,"d":0.00263},{"o":"Caught","x":598,"d":0.00201},{"o":"Caught","x":648,"d":0.00123},{"o":"Caught","x":698,"d":0.00061},{"o":"Caught","x":749,"d":0.0003},{"o":"Caught","x":811,"d":0.00017},{"o":"Caught","x":874,"d":0.00006},{"o":"Caught","x":909,"d":0.00002},
{"o":"Observer2","x":44,"d":0},{"o":"Observer2","x":183,"d":0.00005},{"o":"Observer2","x":221,"d":0.00017},{"o":"Observer2","x":271,"d":0.00092},{"o":"Observer2","x":309,"d":0.00138},{"o":"Observer2","x":359,"d":0.00201},{"o":"Observer2","x":410,"d":0.00239},{"o":"Observer2","x":460,"d":0.00278},{"o":"Observer2","x":497,"d":0.00309},{"o":"Observer2","x":523,"d":0.00317},{"o":"Observer2","x":560,"d":0.00278},{"o":"Observer2","x":611,"d":0.00185},{"o":"Observer2","x":661,"d":0.00115},{"o":"Observer2","x":711,"d":0.00084},{"o":"Observer2","x":761,"d":0.00061},{"o":"Observer2","x":811,"d":0.00037},{"o":"Observer2","x":874,"d":0.00014},{"o":"Observer2","x":909,"d":0.00005},
{"o":"Observer9","x":44,"d":0},{"o":"Observer9","x":183,"d":0.00005},{"o":"Observer9","x":221,"d":0.00022},{"o":"Observer9","x":271,"d":0.00092},{"o":"Observer9","x":309,"d":0.00138},{"o":"Observer9","x":347,"d":0.00263},{"o":"Observer9","x":378,"d":0.00387},{"o":"Observer9","x":403,"d":0.0041},{"o":"Observer9","x":428,"d":0.00372},{"o":"Observer9","x":454,"d":0.00375},{"o":"Observer9","x":479,"d":0.00375},{"o":"Observer9","x":497,"d":0.00325},{"o":"Observer9","x":523,"d":0.00232},{"o":"Observer9","x":548,"d":0.00138},{"o":"Observer9","x":585,"d":0.00107},{"o":"Observer9","x":636,"d":0.00092},{"o":"Observer9","x":673,"d":0.001},{"o":"Observer9","x":711,"d":0.00084},{"o":"Observer9","x":749,"d":0.00048},{"o":"Observer9","x":786,"d":0.00011},{"o":"Observer9","x":850,"d":0},{"o":"Observer9","x":909,"d":0}
],
"mw17": [
{"o":"Caught","x":40,"d":0},{"o":"Caught","x":62,"d":0.00037},{"o":"Caught","x":76,"d":0.00146},{"o":"Caught","x":90,"d":0.00045},{"o":"Caught","x":102,"d":0.00014},{"o":"Caught","x":123,"d":0.00014},{"o":"Caught","x":135,"d":0.00107},{"o":"Caught","x":147,"d":0.00263},{"o":"Caught","x":158,"d":0.00372},{"o":"Caught","x":167,"d":0.00309},{"o":"Caught","x":176,"d":0.00278},{"o":"Caught","x":188,"d":0.0048},{"o":"Caught","x":200,"d":0.00791},{"o":"Caught","x":212,"d":0.009},{"o":"Caught","x":224,"d":0.00978},{"o":"Caught","x":237,"d":0.01071},{"o":"Caught","x":245,"d":0.00947},{"o":"Caught","x":253,"d":0.00729},{"o":"Caught","x":261,"d":0.0048},{"o":"Caught","x":273,"d":0.00263},{"o":"Caught","x":290,"d":0.00107},{"o":"Caught","x":306,"d":0.00061},{"o":"Caught","x":330,"d":0.0003},{"o":"Caught","x":363,"d":0.00017},{"o":"Caught","x":420,"d":0.00006},{"o":"Caught","x":601,"d":0},
{"o":"Observer2","x":40,"d":0.00037},{"o":"Observer2","x":53,"d":0.00061},{"o":"Observer2","x":70,"d":0.00022},{"o":"Observer2","x":94,"d":0.00006},{"o":"Observer2","x":119,"d":0.00045},{"o":"Observer2","x":139,"d":0.00076},{"o":"Observer2","x":159,"d":0.00068},{"o":"Observer2","x":176,"d":0.00092},{"o":"Observer2","x":185,"d":0.00263},{"o":"Observer2","x":194,"d":0.00605},{"o":"Observer2","x":202,"d":0.00745},{"o":"Observer2","x":210,"d":0.00651},{"o":"Observer2","x":220,"d":0.0076},{"o":"Observer2","x":231,"d":0.0104},{"o":"Observer2","x":241,"d":0.01227},{"o":"Observer2","x":249,"d":0.01281},{"o":"Observer2","x":257,"d":0.01149},{"o":"Observer2","x":265,"d":0.00854},{"o":"Observer2","x":273,"d":0.00605},{"o":"Observer2","x":286,"d":0.0034},{"o":"Observer2","x":298,"d":0.00169},{"o":"Observer2","x":318,"d":0.00068},{"o":"Observer2","x":339,"d":0.00048},{"o":"Observer2","x":363,"d":0.00033},{"o":"Observer2","x":404,"d":0.00026},{"o":"Observer2","x":436,"d":0.00017},{"o":"Observer2","x":501,"d":0.00011},{"o":"Observer2","x":567,"d":0.00011},{"o":"Observer2","x":601,"d":0},
{"o":"Observer9","x":40,"d":0.00014},{"o":"Observer9","x":62,"d":0.00076},{"o":"Observer9","x":82,"d":0.00263},{"o":"Observer9","x":98,"d":0.00418},{"o":"Observer9","x":110,"d":0.00504},{"o":"Observer9","x":123,"d":0.00535},{"o":"Observer9","x":135,"d":0.00504},{"o":"Observer9","x":151,"d":0.00449},{"o":"Observer9","x":163,"d":0.00421},{"o":"Observer9","x":176,"d":0.00449},{"o":"Observer9","x":192,"d":0.00543},{"o":"Observer9","x":208,"d":0.00613},{"o":"Observer9","x":220,"d":0.00589},{"o":"Observer9","x":233,"d":0.0048},{"o":"Observer9","x":249,"d":0.00325},{"o":"Observer9","x":265,"d":0.00201},{"o":"Observer9","x":282,"d":0.00107},{"o":"Observer9","x":306,"d":0.00045},{"o":"Observer9","x":339,"d":0.00017},{"o":"Observer9","x":379,"d":0.00006},{"o":"Observer9","x":601,"d":0}
],
"su17": [
{"o":"Caught","x":61,"d":0},{"o":"Caught","x":142,"d":0.00005},{"o":"Caught","x":164,"d":0.00022},{"o":"Caught","x":181,"d":0.00005},{"o":"Caught","x":225,"d":0.00005},{"o":"Caught","x":245,"d":0.00011},{"o":"Caught","x":264,"d":0.00005},{"o":"Caught","x":274,"d":0.00037},{"o":"Caught","x":284,"d":0.00068},{"o":"Caught","x":298,"d":0.00061},{"o":"Caught","x":315,"d":0.00089},{"o":"Caught","x":332,"d":0.00068},{"o":"Caught","x":347,"d":0.00033},{"o":"Caught","x":354,"d":0.00076},{"o":"Caught","x":361,"d":0.00263},{"o":"Caught","x":369,"d":0.00496},{"o":"Caught","x":376,"d":0.0076},{"o":"Caught","x":383,"d":0.0104},{"o":"Caught","x":393,"d":0.01165},{"o":"Caught","x":403,"d":0.01219},{"o":"Caught","x":413,"d":0.01165},{"o":"Caught","x":425,"d":0.01102},{"o":"Caught","x":435,"d":0.00947},{"o":"Caught","x":444,"d":0.0076},{"o":"Caught","x":454,"d":0.00651},{"o":"Caught","x":464,"d":0.00449},{"o":"Caught","x":473,"d":0.00263},{"o":"Caught","x":483,"d":0.00076},{"o":"Caught","x":493,"d":0.0003},{"o":"Caught","x":508,"d":0.00017},{"o":"Caught","x":517,"d":0.00014},{"o":"Caught","x":542,"d":0.00005},{"o":"Caught","x":583,"d":0},
{"o":"Observer2","x":61,"d":0},{"o":"Observer2","x":225,"d":0.00002},{"o":"Observer2","x":240,"d":0.00011},{"o":"Observer2","x":254,"d":0.00053},{"o":"Observer2","x":269,"d":0.00138},{"o":"Observer2","x":281,"d":0.00232},{"o":"Observer2","x":293,"d":0.00294},{"o":"Observer2","x":305,"d":0.00333},{"o":"Observer2","x":318,"d":0.00325},{"o":"Observer2","x":332,"d":0.00309},{"o":"Observer2","x":347,"d":0.00356},{"o":"Observer2","x":361,"d":0.00449},{"o":"Observer2","x":376,"d":0.00558},{"o":"Observer2","x":391,"d":0.00667},{"o":"Observer2","x":405,"d":0.00752},{"o":"Observer2","x":415,"d":0.00784},{"o":"Observer2","x":425,"d":0.0076},{"o":"Observer2","x":435,"d":0.00667},{"o":"Observer2","x":449,"d":0.0048},{"o":"Observer2","x":464,"d":0.00325},{"o":"Observer2","x":478,"d":0.00201},{"o":"Observer2","x":493,"d":0.00123},{"o":"Observer2","x":508,"d":0.00068},{"o":"Observer2","x":522,"d":0.00033},{"o":"Observer2","x":542,"d":0.00014},{"o":"Observer2","x":561,"d":0.00005},{"o":"Observer2","x":583,"d":0},
{"o":"Observer9","x":61,"d":0},{"o":"Observer9","x":191,"d":0.00005},{"o":"Observer9","x":211,"d":0.00014},{"o":"Observer9","x":225,"d":0.00037},{"o":"Observer9","x":240,"d":0.00107},{"o":"Observer9","x":254,"d":0.00232},{"o":"Observer9","x":269,"d":0.00356},{"o":"Observer9","x":284,"d":0.00496},{"o":"Observer9","x":298,"d":0.00636},{"o":"Observer9","x":310,"d":0.00729},{"o":"Observer9","x":323,"d":0.00773},{"o":"Observer9","x":332,"d":0.00745},{"o":"Observer9","x":344,"d":0.00636},{"o":"Observer9","x":357,"d":0.00512},{"o":"Observer9","x":369,"d":0.00426},{"o":"Observer9","x":379,"d":0.00449},{"o":"Observer9","x":393,"d":0.00488},{"o":"Observer9","x":405,"d":0.00449},{"o":"Observer9","x":420,"d":0.00372},{"o":"Observer9","x":435,"d":0.00294},{"o":"Observer9","x":449,"d":0.00216},{"o":"Observer9","x":464,"d":0.00138},{"o":"Observer9","x":478,"d":0.00068},{"o":"Observer9","x":493,"d":0.00022},{"o":"Observer9","x":508,"d":0.00005},{"o":"Observer9","x":583,"d":0}
],
"bt18": [
{"o":"Caught","x":44,"d":0.00003},{"o":"Caught","x":100,"d":0.00006},{"o":"Caught","x":183,"d":0.00023},{"o":"Caught","x":246,"d":0.00109},{"o":"Caught","x":297,"d":0.00172},{"o":"Caught","x":347,"d":0.0025},{"o":"Caught","x":384,"d":0.00297},{"o":"Caught","x":422,"d":0.00273},{"o":"Caught","x":472,"d":0.0025},{"o":"Caught","x":510,"d":0.00219},{"o":"Caught","x":548,"d":0.00172},{"o":"Caught","x":598,"d":0.00125},{"o":"Caught","x":661,"d":0.00094},{"o":"Caught","x":711,"d":0.00078},{"o":"Caught","x":749,"d":0.00055},{"o":"Caught","x":799,"d":0.00023},{"o":"Caught","x":862,"d":0.00013},{"o":"Caught","x":909,"d":0.00003},
{"o":"Observer6","x":44,"d":0.00016},{"o":"Observer6","x":96,"d":0.00013},{"o":"Observer6","x":146,"d":0.00008},{"o":"Observer6","x":196,"d":0.00031},{"o":"Observer6","x":246,"d":0.00125},{"o":"Observer6","x":297,"d":0.0025},{"o":"Observer6","x":334,"d":0.0032},{"o":"Observer6","x":372,"d":0.00344},{"o":"Observer6","x":410,"d":0.00336},{"o":"Observer6","x":447,"d":0.00266},{"o":"Observer6","x":497,"d":0.00195},{"o":"Observer6","x":548,"d":0.00148},{"o":"Observer6","x":598,"d":0.00117},{"o":"Observer6","x":648,"d":0.00086},{"o":"Observer6","x":698,"d":0.00047},{"o":"Observer6","x":749,"d":0.00013},{"o":"Observer6","x":811,"d":0.00003},{"o":"Observer6","x":909,"d":0},
{"o":"Observer9","x":44,"d":0},{"o":"Observer9","x":146,"d":0.00006},{"o":"Observer9","x":196,"d":0.00031},{"o":"Observer9","x":246,"d":0.00125},{"o":"Observer9","x":297,"d":0.00297},{"o":"Observer9","x":328,"d":0.00359},{"o":"Observer9","x":359,"d":0.00378},{"o":"Observer9","x":397,"d":0.00344},{"o":"Observer9","x":435,"d":0.0025},{"o":"Observer9","x":472,"d":0.00172},{"o":"Observer9","x":510,"d":0.00133},{"o":"Observer9","x":560,"d":0.00117},{"o":"Observer9","x":611,"d":0.00109},{"o":"Observer9","x":661,"d":0.00086},{"o":"Observer9","x":711,"d":0.00055},{"o":"Observer9","x":761,"d":0.00016},{"o":"Observer9","x":811,"d":0.00003},{"o":"Observer9","x":909,"d":0}
],
"mw18": [
{"o":"Caught","x":40,"d":0},{"o":"Caught","x":62,"d":0.00016},{"o":"Caught","x":78,"d":0.00153},{"o":"Caught","x":90,"d":0.00047},{"o":"Caught","x":102,"d":0.00013},{"o":"Caught","x":127,"d":0.00013},{"o":"Caught","x":143,"d":0.00063},{"o":"Caught","x":155,"d":0.00086},{"o":"Caught","x":167,"d":0.00031},{"o":"Caught","x":180,"d":0.00016},{"o":"Caught","x":192,"d":0.00266},{"o":"Caught","x":204,"d":0.00484},{"o":"Caught","x":216,"d":0.00609},{"o":"Caught","x":226,"d":0.00891},{"o":"Caught","x":234,"d":0.01188},{"o":"Caught","x":242,"d":0.01284},{"o":"Caught","x":253,"d":0.01172},{"o":"Caught","x":265,"d":0.00922},{"o":"Caught","x":277,"d":0.00656},{"o":"Caught","x":290,"d":0.00422},{"o":"Caught","x":306,"d":0.0025},{"o":"Caught","x":322,"d":0.00125},{"o":"Caught","x":339,"d":0.00031},{"o":"Caught","x":355,"d":0.00016},{"o":"Caught","x":371,"d":0.00039},{"o":"Caught","x":387,"d":0.00019},{"o":"Caught","x":404,"d":0.00016},{"o":"Caught","x":420,"d":0.00016},{"o":"Caught","x":436,"d":0.00006},{"o":"Caught","x":601,"d":0},
{"o":"Observer6","x":40,"d":0.00013},{"o":"Observer6","x":70,"d":0.00013},{"o":"Observer6","x":86,"d":0.00047},{"o":"Observer6","x":98,"d":0.00109},{"o":"Observer6","x":110,"d":0.00133},{"o":"Observer6","x":123,"d":0.00109},{"o":"Observer6","x":139,"d":0.00203},{"o":"Observer6","x":155,"d":0.00391},{"o":"Observer6","x":171,"d":0.00656},{"o":"Observer6","x":184,"d":0.00969},{"o":"Observer6","x":193,"d":0.01172},{"o":"Observer6","x":202,"d":0.01263},{"o":"Observer6","x":212,"d":0.01141},{"o":"Observer6","x":224,"d":0.00906},{"o":"Observer6","x":237,"d":0.00734},{"o":"Observer6","x":249,"d":0.00516},{"o":"Observer6","x":261,"d":0.00391},{"o":"Observer6","x":273,"d":0.00266},{"o":"Observer6","x":286,"d":0.00172},{"o":"Observer6","x":298,"d":0.00109},{"o":"Observer6","x":314,"d":0.00047},{"o":"Observer6","x":330,"d":0.00013},{"o":"Observer6","x":371,"d":0.00003},{"o":"Observer6","x":601,"d":0},
{"o":"Observer9","x":40,"d":0.00031},{"o":"Observer9","x":53,"d":0.00023},{"o":"Observer9","x":70,"d":0.00016},{"o":"Observer9","x":86,"d":0.00047},{"o":"Observer9","x":98,"d":0.00094},{"o":"Observer9","x":110,"d":0.00125},{"o":"Observer9","x":127,"d":0.00219},{"o":"Observer9","x":139,"d":0.00422},{"o":"Observer9","x":151,"d":0.00766},{"o":"Observer9","x":163,"d":0.01047},{"o":"Observer9","x":176,"d":0.01094},{"o":"Observer9","x":185,"d":0.01156},{"o":"Observer9","x":193,"d":0.01195},{"o":"Observer9","x":202,"d":0.01109},{"o":"Observer9","x":212,"d":0.00813},{"o":"Observer9","x":224,"d":0.00484},{"o":"Observer9","x":237,"d":0.00328},{"o":"Observer9","x":249,"d":0.00234},{"o":"Observer9","x":261,"d":0.00109},{"o":"Observer9","x":273,"d":0.00047},{"o":"Observer9","x":290,"d":0.00019},{"o":"Observer9","x":302,"d":0.00031},{"o":"Observer9","x":314,"d":0.00008},{"o":"Observer9","x":355,"d":0.00003},{"o":"Observer9","x":601,"d":0}
],
"su18": [
{"o":"Caught","x":61,"d":0.00003},{"o":"Caught","x":152,"d":0.00006},{"o":"Caught","x":176,"d":0.00022},{"o":"Caught","x":198,"d":0.00047},{"o":"Caught","x":215,"d":0.00031},{"o":"Caught","x":235,"d":0.00034},{"o":"Caught","x":254,"d":0.00019},{"o":"Caught","x":284,"d":0.00019},{"o":"Caught","x":313,"d":0.00016},{"o":"Caught","x":337,"d":0.00016},{"o":"Caught","x":352,"d":0.00063},{"o":"Caught","x":366,"d":0.00234},{"o":"Caught","x":381,"d":0.00547},{"o":"Caught","x":393,"d":0.00828},{"o":"Caught","x":403,"d":0.01},{"o":"Caught","x":410,"d":0.01023},{"o":"Caught","x":420,"d":0.00969},{"o":"Caught","x":430,"d":0.00875},{"o":"Caught","x":444,"d":0.00766},{"o":"Caught","x":459,"d":0.00594},{"o":"Caught","x":473,"d":0.00422},{"o":"Caught","x":488,"d":0.00297},{"o":"Caught","x":503,"d":0.00188},{"o":"Caught","x":517,"d":0.00109},{"o":"Caught","x":537,"d":0.0007},{"o":"Caught","x":551,"d":0.00031},{"o":"Caught","x":566,"d":0.00006},{"o":"Caught","x":583,"d":0.00003},
{"o":"Observer6","x":61,"d":0.00008},{"o":"Observer6","x":103,"d":0.00023},{"o":"Observer6","x":128,"d":0.00019},{"o":"Observer6","x":152,"d":0.00023},{"o":"Observer6","x":176,"d":0.00078},{"o":"Observer6","x":196,"d":0.00141},{"o":"Observer6","x":215,"d":0.00156},{"o":"Observer6","x":235,"d":0.00109},{"o":"Observer6","x":254,"d":0.00078},{"o":"Observer6","x":269,"d":0.00172},{"o":"Observer6","x":284,"d":0.00359},{"o":"Observer6","x":298,"d":0.00531},{"o":"Observer6","x":313,"d":0.00648},{"o":"Observer6","x":323,"d":0.00672},{"o":"Observer6","x":335,"d":0.00641},{"o":"Observer6","x":347,"d":0.00547},{"o":"Observer6","x":361,"d":0.00469},{"o":"Observer6","x":376,"d":0.00445},{"o":"Observer6","x":391,"d":0.00438},{"o":"Observer6","x":405,"d":0.00422},{"o":"Observer6","x":420,"d":0.00359},{"o":"Observer6","x":440,"d":0.00234},{"o":"Observer6","x":459,"d":0.00141},{"o":"Observer6","x":478,"d":0.00078},{"o":"Observer6","x":498,"d":0.00039},{"o":"Observer6","x":517,"d":0.00019},{"o":"Observer6","x":542,"d":0.00006},{"o":"Observer6","x":583,"d":0},
{"o":"Observer9","x":61,"d":0},{"o":"Observer9","x":167,"d":0.00003},{"o":"Observer9","x":186,"d":0.00016},{"o":"Observer9","x":206,"d":0.00039},{"o":"Observer9","x":225,"d":0.00047},{"o":"Observer9","x":245,"d":0.00055},{"o":"Observer9","x":254,"d":0.00094},{"o":"Observer9","x":264,"d":0.00172},{"o":"Observer9","x":279,"d":0.00359},{"o":"Observer9","x":293,"d":0.00609},{"o":"Observer9","x":305,"d":0.00844},{"o":"Observer9","x":318,"d":0.01016},{"o":"Observer9","x":327,"d":0.01086},{"o":"Observer9","x":337,"d":0.01047},{"o":"Observer9","x":349,"d":0.00891},{"o":"Observer9","x":361,"d":0.00703},{"o":"Observer9","x":376,"d":0.00516},{"o":"Observer9","x":391,"d":0.00359},{"o":"Observer9","x":405,"d":0.00203},{"o":"Observer9","x":420,"d":0.00094},{"o":"Observer9","x":432,"d":0.0007},{"o":"Observer9","x":444,"d":0.00086},{"o":"Observer9","x":456,"d":0.0007},{"o":"Observer9","x":469,"d":0.00031},{"o":"Observer9","x":483,"d":0.00006},{"o":"Observer9","x":583,"d":0}
]
},
"spacing": -2,
"vconcat": [
{"bounds": "flush", "spacing": 22.5, "hconcat": [
 {"width": 388, "height": 65, "data": {"values": [{"t": "Bull Trout"}]}, "mark": {"type": "text", "fontSize": 33, "color": "#1a1a1a"}, "encoding": {"text": {"field": "t"}}, "view": {"fill": "#c4c4c4", "stroke": "#333333", "strokeWidth": 2.5}},
 {"width": 388, "height": 65, "data": {"values": [{"t": "Mountain Whitefish"}]}, "mark": {"type": "text", "fontSize": 33, "color": "#1a1a1a"}, "encoding": {"text": {"field": "t"}}, "view": {"fill": "#c4c4c4", "stroke": "#333333", "strokeWidth": 2.5}},
 {"width": 388, "height": 65, "data": {"values": [{"t": "Sucker"}]}, "mark": {"type": "text", "fontSize": 33, "color": "#1a1a1a"}, "encoding": {"text": {"field": "t"}}, "view": {"fill": "#c4c4c4", "stroke": "#333333", "strokeWidth": 2.5}}
]},
{"spacing": 14, "vconcat": [
 {"align": "none", "spacing": -1.5, "hconcat": [
  {"bounds": "flush", "spacing": 22.5, "hconcat": [
   {"width": 388, "height": 299, "data": {"name": "bt14"}, "mark": {"type": "line", "strokeWidth": 4.1, "interpolate": "monotone"},
    "encoding": {
     "x": {"field": "x", "type": "quantitative", "scale": {"domain": [4, 946], "nice": false, "zero": false}, "axis": {"values": [125,250,375,500,625,750,875], "labels": false, "ticks": false, "title": null, "gridColor": {"condition": {"test": "datum.value % 250 == 0", "value": "#c2c2c2"}, "value": "#e5e5e5"}, "gridWidth": {"condition": {"test": "datum.value % 250 == 0", "value": 3.8}, "value": 1.9}}},
     "y": {"field": "d", "type": "quantitative", "scale": {"domain": [-0.000825, 0.019721], "nice": false, "zero": false}, "axis": {"values": [0,0.0025,0.005,0.0075,0.01,0.0125,0.015,0.0175], "format": ".3f", "labelExpr": "abs(datum.value*200-round(datum.value*200))<0.01 ? datum.label : ''", "tickOpacity": {"condition": {"test": "abs(datum.value*200-round(datum.value*200))<0.01", "value": 1}, "value": 0}, "title": null, "gridColor": {"condition": {"test": "abs(datum.value*200-round(datum.value*200))<0.01", "value": "#c2c2c2"}, "value": "#e5e5e5"}, "gridWidth": {"condition": {"test": "abs(datum.value*200-round(datum.value*200))<0.01", "value": 3.8}, "value": 1.9}}},
     "color": {"field": "o", "type": "nominal", "title": "Observer"},
     "strokeDash": {"field": "o", "type": "nominal", "title": "Observer", "scale": {"range": [[1,0],[9,7],[16,8],[16,16],[4,12],[4,12,16,12],[28,12],[8,8,24,8],[4,8,8,8,12,8,16,8],[60,8,32,8]]}}}},
   {"width": 388, "height": 299, "data": {"name": "mw14"}, "mark": {"type": "line", "strokeWidth": 4.1, "interpolate": "monotone"},
    "encoding": {
     "x": {"field": "x", "type": "quantitative", "scale": {"domain": [13, 628], "nice": false, "zero": false}, "axis": {"values": [100,200,300,400,500,600], "labels": false, "ticks": false, "title": null, "gridColor": {"condition": {"test": "datum.value % 200 == 0", "value": "#c2c2c2"}, "value": "#e5e5e5"}, "gridWidth": {"condition": {"test": "datum.value % 200 == 0", "value": 3.8}, "value": 1.9}}},
     "y": {"field": "d", "type": "quantitative", "scale": {"domain": [-0.000825, 0.019721], "nice": false, "zero": false}, "axis": {"values": [0,0.0025,0.005,0.0075,0.01,0.0125,0.015,0.0175], "labels": false, "ticks": false, "title": null, "gridColor": {"condition": {"test": "abs(datum.value*200-round(datum.value*200))<0.01", "value": "#c2c2c2"}, "value": "#e5e5e5"}, "gridWidth": {"condition": {"test": "abs(datum.value*200-round(datum.value*200))<0.01", "value": 3.8}, "value": 1.9}}},
     "color": {"field": "o", "type": "nominal", "title": "Observer"},
     "strokeDash": {"field": "o", "type": "nominal", "title": "Observer", "scale": {"range": [[1,0],[9,7],[16,8],[16,16],[4,12],[4,12,16,12],[28,12],[8,8,24,8],[4,8,8,8,12,8,16,8],[60,8,32,8]]}}}},
   {"width": 388, "height": 299, "data": {"name": "su14"}, "mark": {"type": "line", "strokeWidth": 4.1, "interpolate": "monotone"},
    "encoding": {
     "x": {"field": "x", "type": "quantitative", "scale": {"domain": [37, 605], "nice": false, "zero": false}, "axis": {"values": [50,100,150,200,250,300,350,400,450,500,550,600], "labels": false, "ticks": false, "title": null, "gridColor": {"condition": {"test": "datum.value % 100 == 0", "value": "#c2c2c2"}, "value": "#e5e5e5"}, "gridWidth": {"condition": {"test": "datum.value % 100 == 0", "value": 3.8}, "value": 1.9}}},
     "y": {"field": "d", "type": "quantitative", "scale": {"domain": [-0.000825, 0.019721], "nice": false, "zero": false}, "axis": {"values": [0,0.0025,0.005,0.0075,0.01,0.0125,0.015,0.0175], "labels": false, "ticks": false, "title": null, "gridColor": {"condition": {"test": "abs(datum.value*200-round(datum.value*200))<0.01", "value": "#c2c2c2"}, "value": "#e5e5e5"}, "gridWidth": {"condition": {"test": "abs(datum.value*200-round(datum.value*200))<0.01", "value": 3.8}, "value": 1.9}}},
     "color": {"field": "o", "type": "nominal", "title": "Observer"},
     "strokeDash": {"field": "o", "type": "nominal", "title": "Observer", "scale": {"range": [[1,0],[9,7],[16,8],[16,16],[4,12],[4,12,16,12],[28,12],[8,8,24,8],[4,8,8,8,12,8,16,8],[60,8,32,8]]}}}}
  ]},
  {"width": 64.5, "height": 299, "data": {"values": [{"t": "2014"}]}, "mark": {"type": "text", "fontSize": 33, "color": "#1a1a1a", "angle": 90}, "encoding": {"text": {"field": "t"}}, "view": {"fill": "#c4c4c4", "stroke": "#333333", "strokeWidth": 2.5}}
 ]},
 {"align": "none", "spacing": -1.5, "hconcat": [
  {"bounds": "flush", "spacing": 22.5, "hconcat": [
   {"width": 388, "height": 299, "data": {"name": "bt15"}, "mark": {"type": "line", "strokeWidth": 4.1, "interpolate": "monotone"},
    "encoding": {
     "x": {"field": "x", "type": "quantitative", "scale": {"domain": [4, 946], "nice": false, "zero": false}, "axis": {"values": [125,250,375,500,625,750,875], "labels": false, "ticks": false, "title": null, "gridColor": {"condition": {"test": "datum.value % 250 == 0", "value": "#c2c2c2"}, "value": "#e5e5e5"}, "gridWidth": {"condition": {"test": "datum.value % 250 == 0", "value": 3.8}, "value": 1.9}}},
     "y": {"field": "d", "type": "quantitative", "scale": {"domain": [-0.00097, 0.02267], "nice": false, "zero": false}, "axis": {"values": [0,0.0025,0.005,0.0075,0.01,0.0125,0.015,0.0175,0.02], "format": ".3f", "labelExpr": "abs(datum.value*200-round(datum.value*200))<0.01 ? datum.label : ''", "tickOpacity": {"condition": {"test": "abs(datum.value*200-round(datum.value*200))<0.01", "value": 1}, "value": 0}, "title": null, "gridColor": {"condition": {"test": "abs(datum.value*200-round(datum.value*200))<0.01", "value": "#c2c2c2"}, "value": "#e5e5e5"}, "gridWidth": {"condition": {"test": "abs(datum.value*200-round(datum.value*200))<0.01", "value": 3.8}, "value": 1.9}}},
     "color": {"field": "o", "type": "nominal", "title": "Observer"},
     "strokeDash": {"field": "o", "type": "nominal", "title": "Observer", "scale": {"range": [[1,0],[9,7],[16,8],[16,16],[4,12],[4,12,16,12],[28,12],[8,8,24,8],[4,8,8,8,12,8,16,8],[60,8,32,8]]}}}},
   {"width": 388, "height": 299, "data": {"name": "mw15"}, "mark": {"type": "line", "strokeWidth": 4.1, "interpolate": "monotone"},
    "encoding": {
     "x": {"field": "x", "type": "quantitative", "scale": {"domain": [13, 628], "nice": false, "zero": false}, "axis": {"values": [100,200,300,400,500,600], "labels": false, "ticks": false, "title": null, "gridColor": {"condition": {"test": "datum.value % 200 == 0", "value": "#c2c2c2"}, "value": "#e5e5e5"}, "gridWidth": {"condition": {"test": "datum.value % 200 == 0", "value": 3.8}, "value": 1.9}}},
     "y": {"field": "d", "type": "quantitative", "scale": {"domain": [-0.00097, 0.02267], "nice": false, "zero": false}, "axis": {"values": [0,0.0025,0.005,0.0075,0.01,0.0125,0.015,0.0175,0.02], "labels": false, "ticks": false, "title": null, "gridColor": {"condition": {"test": "abs(datum.value*200-round(datum.value*200))<0.01", "value": "#c2c2c2"}, "value": "#e5e5e5"}, "gridWidth": {"condition": {"test": "abs(datum.value*200-round(datum.value*200))<0.01", "value": 3.8}, "value": 1.9}}},
     "color": {"field": "o", "type": "nominal", "title": "Observer"},
     "strokeDash": {"field": "o", "type": "nominal", "title": "Observer", "scale": {"range": [[1,0],[9,7],[16,8],[16,16],[4,12],[4,12,16,12],[28,12],[8,8,24,8],[4,8,8,8,12,8,16,8],[60,8,32,8]]}}}},
   {"width": 388, "height": 299, "data": {"name": "su15"}, "mark": {"type": "line", "strokeWidth": 4.1, "interpolate": "monotone"},
    "encoding": {
     "x": {"field": "x", "type": "quantitative", "scale": {"domain": [37, 605], "nice": false, "zero": false}, "axis": {"values": [50,100,150,200,250,300,350,400,450,500,550,600], "labels": false, "ticks": false, "title": null, "gridColor": {"condition": {"test": "datum.value % 100 == 0", "value": "#c2c2c2"}, "value": "#e5e5e5"}, "gridWidth": {"condition": {"test": "datum.value % 100 == 0", "value": 3.8}, "value": 1.9}}},
     "y": {"field": "d", "type": "quantitative", "scale": {"domain": [-0.00097, 0.02267], "nice": false, "zero": false}, "axis": {"values": [0,0.0025,0.005,0.0075,0.01,0.0125,0.015,0.0175,0.02], "labels": false, "ticks": false, "title": null, "gridColor": {"condition": {"test": "abs(datum.value*200-round(datum.value*200))<0.01", "value": "#c2c2c2"}, "value": "#e5e5e5"}, "gridWidth": {"condition": {"test": "abs(datum.value*200-round(datum.value*200))<0.01", "value": 3.8}, "value": 1.9}}},
     "color": {"field": "o", "type": "nominal", "title": "Observer"},
     "strokeDash": {"field": "o", "type": "nominal", "title": "Observer", "scale": {"range": [[1,0],[9,7],[16,8],[16,16],[4,12],[4,12,16,12],[28,12],[8,8,24,8],[4,8,8,8,12,8,16,8],[60,8,32,8]]}}}}
  ]},
  {"width": 64.5, "height": 299, "data": {"values": [{"t": "2015"}]}, "mark": {"type": "text", "fontSize": 33, "color": "#1a1a1a", "angle": 90}, "encoding": {"text": {"field": "t"}}, "view": {"fill": "#c4c4c4", "stroke": "#333333", "strokeWidth": 2.5}}
 ]},
 {"align": "none", "spacing": -1.5, "hconcat": [
  {"bounds": "flush", "spacing": 22.5, "hconcat": [
   {"width": 388, "height": 299, "data": {"name": "bt16"}, "mark": {"type": "line", "strokeWidth": 4.1, "interpolate": "monotone"},
    "encoding": {
     "x": {"field": "x", "type": "quantitative", "scale": {"domain": [4, 946], "nice": false, "zero": false}, "axis": {"values": [125,250,375,500,625,750,875], "labels": false, "ticks": false, "title": null, "gridColor": {"condition": {"test": "datum.value % 250 == 0", "value": "#c2c2c2"}, "value": "#e5e5e5"}, "gridWidth": {"condition": {"test": "datum.value % 250 == 0", "value": 3.8}, "value": 1.9}}},
     "y": {"field": "d", "type": "quantitative", "scale": {"domain": [-0.0012, 0.026485], "nice": false, "zero": false}, "axis": {"values": [0,0.0025,0.005,0.0075,0.01,0.0125,0.015,0.0175,0.02,0.0225,0.025], "format": ".3f", "labelExpr": "abs(datum.value*200-round(datum.value*200))<0.01 ? datum.label : ''", "tickOpacity": {"condition": {"test": "abs(datum.value*200-round(datum.value*200))<0.01", "value": 1}, "value": 0}, "title": "Density", "gridColor": {"condition": {"test": "abs(datum.value*200-round(datum.value*200))<0.01", "value": "#c2c2c2"}, "value": "#e5e5e5"}, "gridWidth": {"condition": {"test": "abs(datum.value*200-round(datum.value*200))<0.01", "value": 3.8}, "value": 1.9}}},
     "color": {"field": "o", "type": "nominal", "title": "Observer"},
     "strokeDash": {"field": "o", "type": "nominal", "title": "Observer", "scale": {"range": [[1,0],[9,7],[16,8],[16,16],[4,12],[4,12,16,12],[28,12],[8,8,24,8],[4,8,8,8,12,8,16,8],[60,8,32,8]]}}}},
   {"width": 388, "height": 299, "data": {"name": "mw16"}, "mark": {"type": "line", "strokeWidth": 4.1, "interpolate": "monotone"},
    "encoding": {
     "x": {"field": "x", "type": "quantitative", "scale": {"domain": [13, 628], "nice": false, "zero": false}, "axis": {"values": [100,200,300,400,500,600], "labels": false, "ticks": false, "title": null, "gridColor": {"condition": {"test": "datum.value % 200 == 0", "value": "#c2c2c2"}, "value": "#e5e5e5"}, "gridWidth": {"condition": {"test": "datum.value % 200 == 0", "value": 3.8}, "value": 1.9}}},
     "y": {"field": "d", "type": "quantitative", "scale": {"domain": [-0.0012, 0.026485], "nice": false, "zero": false}, "axis": {"values": [0,0.0025,0.005,0.0075,0.01,0.0125,0.015,0.0175,0.02,0.0225,0.025], "labels": false, "ticks": false, "title": null, "gridColor": {"condition": {"test": "abs(datum.value*200-round(datum.value*200))<0.01", "value": "#c2c2c2"}, "value": "#e5e5e5"}, "gridWidth": {"condition": {"test": "abs(datum.value*200-round(datum.value*200))<0.01", "value": 3.8}, "value": 1.9}}},
     "color": {"field": "o", "type": "nominal", "title": "Observer"},
     "strokeDash": {"field": "o", "type": "nominal", "title": "Observer", "scale": {"range": [[1,0],[9,7],[16,8],[16,16],[4,12],[4,12,16,12],[28,12],[8,8,24,8],[4,8,8,8,12,8,16,8],[60,8,32,8]]}}}},
   {"width": 388, "height": 299, "data": {"name": "su16"}, "mark": {"type": "line", "strokeWidth": 4.1, "interpolate": "monotone"},
    "encoding": {
     "x": {"field": "x", "type": "quantitative", "scale": {"domain": [37, 605], "nice": false, "zero": false}, "axis": {"values": [50,100,150,200,250,300,350,400,450,500,550,600], "labels": false, "ticks": false, "title": null, "gridColor": {"condition": {"test": "datum.value % 100 == 0", "value": "#c2c2c2"}, "value": "#e5e5e5"}, "gridWidth": {"condition": {"test": "datum.value % 100 == 0", "value": 3.8}, "value": 1.9}}},
     "y": {"field": "d", "type": "quantitative", "scale": {"domain": [-0.0012, 0.026485], "nice": false, "zero": false}, "axis": {"values": [0,0.0025,0.005,0.0075,0.01,0.0125,0.015,0.0175,0.02,0.0225,0.025], "labels": false, "ticks": false, "title": null, "gridColor": {"condition": {"test": "abs(datum.value*200-round(datum.value*200))<0.01", "value": "#c2c2c2"}, "value": "#e5e5e5"}, "gridWidth": {"condition": {"test": "abs(datum.value*200-round(datum.value*200))<0.01", "value": 3.8}, "value": 1.9}}},
     "color": {"field": "o", "type": "nominal", "title": "Observer"},
     "strokeDash": {"field": "o", "type": "nominal", "title": "Observer", "scale": {"range": [[1,0],[9,7],[16,8],[16,16],[4,12],[4,12,16,12],[28,12],[8,8,24,8],[4,8,8,8,12,8,16,8],[60,8,32,8]]}}}}
  ]},
  {"width": 64.5, "height": 299, "data": {"values": [{"t": "2016"}]}, "mark": {"type": "text", "fontSize": 33, "color": "#1a1a1a", "angle": 90}, "encoding": {"text": {"field": "t"}}, "view": {"fill": "#c4c4c4", "stroke": "#333333", "strokeWidth": 2.5}}
 ]},
 {"align": "none", "spacing": -1.5, "hconcat": [
  {"bounds": "flush", "spacing": 22.5, "hconcat": [
   {"width": 388, "height": 299, "data": {"name": "bt17"}, "mark": {"type": "line", "strokeWidth": 4.1, "interpolate": "monotone"},
    "encoding": {
     "x": {"field": "x", "type": "quantitative", "scale": {"domain": [4, 946], "nice": false, "zero": false}, "axis": {"values": [125,250,375,500,625,750,875], "labels": false, "ticks": false, "title": null, "gridColor": {"condition": {"test": "datum.value % 250 == 0", "value": "#c2c2c2"}, "value": "#e5e5e5"}, "gridWidth": {"condition": {"test": "datum.value % 250 == 0", "value": 3.8}, "value": 1.9}}},
     "y": {"field": "d", "type": "quantitative", "scale": {"domain": [-0.00062, 0.013326], "nice": false, "zero": false}, "axis": {"values": [0,0.0025,0.005,0.0075,0.01,0.0125], "format": ".3f", "labelExpr": "abs(datum.value*200-round(datum.value*200))<0.01 ? datum.label : ''", "tickOpacity": {"condition": {"test": "abs(datum.value*200-round(datum.value*200))<0.01", "value": 1}, "value": 0}, "title": null, "gridColor": {"condition": {"test": "abs(datum.value*200-round(datum.value*200))<0.01", "value": "#c2c2c2"}, "value": "#e5e5e5"}, "gridWidth": {"condition": {"test": "abs(datum.value*200-round(datum.value*200))<0.01", "value": 3.8}, "value": 1.9}}},
     "color": {"field": "o", "type": "nominal", "title": "Observer"},
     "strokeDash": {"field": "o", "type": "nominal", "title": "Observer", "scale": {"range": [[1,0],[9,7],[16,8],[16,16],[4,12],[4,12,16,12],[28,12],[8,8,24,8],[4,8,8,8,12,8,16,8],[60,8,32,8]]}}}},
   {"width": 388, "height": 299, "data": {"name": "mw17"}, "mark": {"type": "line", "strokeWidth": 4.1, "interpolate": "monotone"},
    "encoding": {
     "x": {"field": "x", "type": "quantitative", "scale": {"domain": [13, 628], "nice": false, "zero": false}, "axis": {"values": [100,200,300,400,500,600], "labels": false, "ticks": false, "title": null, "gridColor": {"condition": {"test": "datum.value % 200 == 0", "value": "#c2c2c2"}, "value": "#e5e5e5"}, "gridWidth": {"condition": {"test": "datum.value % 200 == 0", "value": 3.8}, "value": 1.9}}},
     "y": {"field": "d", "type": "quantitative", "scale": {"domain": [-0.00062, 0.013326], "nice": false, "zero": false}, "axis": {"values": [0,0.0025,0.005,0.0075,0.01,0.0125], "labels": false, "ticks": false, "title": null, "gridColor": {"condition": {"test": "abs(datum.value*200-round(datum.value*200))<0.01", "value": "#c2c2c2"}, "value": "#e5e5e5"}, "gridWidth": {"condition": {"test": "abs(datum.value*200-round(datum.value*200))<0.01", "value": 3.8}, "value": 1.9}}},
     "color": {"field": "o", "type": "nominal", "title": "Observer"},
     "strokeDash": {"field": "o", "type": "nominal", "title": "Observer", "scale": {"range": [[1,0],[9,7],[16,8],[16,16],[4,12],[4,12,16,12],[28,12],[8,8,24,8],[4,8,8,8,12,8,16,8],[60,8,32,8]]}}}},
   {"width": 388, "height": 299, "data": {"name": "su17"}, "mark": {"type": "line", "strokeWidth": 4.1, "interpolate": "monotone"},
    "encoding": {
     "x": {"field": "x", "type": "quantitative", "scale": {"domain": [37, 605], "nice": false, "zero": false}, "axis": {"values": [50,100,150,200,250,300,350,400,450,500,550,600], "labels": false, "ticks": false, "title": null, "gridColor": {"condition": {"test": "datum.value % 100 == 0", "value": "#c2c2c2"}, "value": "#e5e5e5"}, "gridWidth": {"condition": {"test": "datum.value % 100 == 0", "value": 3.8}, "value": 1.9}}},
     "y": {"field": "d", "type": "quantitative", "scale": {"domain": [-0.00062, 0.013326], "nice": false, "zero": false}, "axis": {"values": [0,0.0025,0.005,0.0075,0.01,0.0125], "labels": false, "ticks": false, "title": null, "gridColor": {"condition": {"test": "abs(datum.value*200-round(datum.value*200))<0.01", "value": "#c2c2c2"}, "value": "#e5e5e5"}, "gridWidth": {"condition": {"test": "abs(datum.value*200-round(datum.value*200))<0.01", "value": 3.8}, "value": 1.9}}},
     "color": {"field": "o", "type": "nominal", "title": "Observer"},
     "strokeDash": {"field": "o", "type": "nominal", "title": "Observer", "scale": {"range": [[1,0],[9,7],[16,8],[16,16],[4,12],[4,12,16,12],[28,12],[8,8,24,8],[4,8,8,8,12,8,16,8],[60,8,32,8]]}}}}
  ]},
  {"width": 64.5, "height": 299, "data": {"values": [{"t": "2017"}]}, "mark": {"type": "text", "fontSize": 33, "color": "#1a1a1a", "angle": 90}, "encoding": {"text": {"field": "t"}}, "view": {"fill": "#c4c4c4", "stroke": "#333333", "strokeWidth": 2.5}}
 ]},
 {"align": "none", "spacing": -24.5, "hconcat": [
  {"bounds": "flush", "spacing": 22.5, "hconcat": [
   {"width": 388, "height": 299, "data": {"name": "bt18"}, "mark": {"type": "line", "strokeWidth": 4.1, "interpolate": "monotone"},
    "encoding": {
     "x": {"field": "x", "type": "quantitative", "scale": {"domain": [4, 946], "nice": false, "zero": false}, "axis": {"values": [125,250,375,500,625,750,875], "labelExpr": "datum.value % 250 == 0 ? datum.label : ''", "tickOpacity": {"condition": {"test": "datum.value % 250 == 0", "value": 1}, "value": 0}, "title": null, "gridColor": {"condition": {"test": "datum.value % 250 == 0", "value": "#c2c2c2"}, "value": "#e5e5e5"}, "gridWidth": {"condition": {"test": "datum.value % 250 == 0", "value": 3.8}, "value": 1.9}}},
     "y": {"field": "d", "type": "quantitative", "scale": {"domain": [-0.00061, 0.013408], "nice": false, "zero": false}, "axis": {"values": [0,0.0025,0.005,0.0075,0.01,0.0125], "format": ".3f", "labelExpr": "abs(datum.value*200-round(datum.value*200))<0.01 ? datum.label : ''", "tickOpacity": {"condition": {"test": "abs(datum.value*200-round(datum.value*200))<0.01", "value": 1}, "value": 0}, "title": null, "gridColor": {"condition": {"test": "abs(datum.value*200-round(datum.value*200))<0.01", "value": "#c2c2c2"}, "value": "#e5e5e5"}, "gridWidth": {"condition": {"test": "abs(datum.value*200-round(datum.value*200))<0.01", "value": 3.8}, "value": 1.9}}},
     "color": {"field": "o", "type": "nominal", "title": "Observer"},
     "strokeDash": {"field": "o", "type": "nominal", "title": "Observer", "scale": {"range": [[1,0],[9,7],[16,8],[16,16],[4,12],[4,12,16,12],[28,12],[8,8,24,8],[4,8,8,8,12,8,16,8],[60,8,32,8]]}}}},
   {"width": 388, "height": 299, "data": {"name": "mw18"}, "mark": {"type": "line", "strokeWidth": 4.1, "interpolate": "monotone"},
    "encoding": {
     "x": {"field": "x", "type": "quantitative", "scale": {"domain": [13, 628], "nice": false, "zero": false}, "axis": {"values": [100,200,300,400,500,600], "labelExpr": "datum.value % 200 == 0 ? datum.label : ''", "tickOpacity": {"condition": {"test": "datum.value % 200 == 0", "value": 1}, "value": 0}, "title": "Fork Length (mm)", "gridColor": {"condition": {"test": "datum.value % 200 == 0", "value": "#c2c2c2"}, "value": "#e5e5e5"}, "gridWidth": {"condition": {"test": "datum.value % 200 == 0", "value": 3.8}, "value": 1.9}}},
     "y": {"field": "d", "type": "quantitative", "scale": {"domain": [-0.00061, 0.013408], "nice": false, "zero": false}, "axis": {"values": [0,0.0025,0.005,0.0075,0.01,0.0125], "labels": false, "ticks": false, "title": null, "gridColor": {"condition": {"test": "abs(datum.value*200-round(datum.value*200))<0.01", "value": "#c2c2c2"}, "value": "#e5e5e5"}, "gridWidth": {"condition": {"test": "abs(datum.value*200-round(datum.value*200))<0.01", "value": 3.8}, "value": 1.9}}},
     "color": {"field": "o", "type": "nominal", "title": "Observer"},
     "strokeDash": {"field": "o", "type": "nominal", "title": "Observer", "scale": {"range": [[1,0],[9,7],[16,8],[16,16],[4,12],[4,12,16,12],[28,12],[8,8,24,8],[4,8,8,8,12,8,16,8],[60,8,32,8]]}}}},
   {"width": 388, "height": 299, "data": {"name": "su18"}, "mark": {"type": "line", "strokeWidth": 4.1, "interpolate": "monotone"},
    "encoding": {
     "x": {"field": "x", "type": "quantitative", "scale": {"domain": [37, 605], "nice": false, "zero": false}, "axis": {"values": [50,100,150,200,250,300,350,400,450,500,550,600], "labelExpr": "datum.value % 100 == 0 ? datum.label : ''", "tickOpacity": {"condition": {"test": "datum.value % 100 == 0", "value": 1}, "value": 0}, "title": null, "gridColor": {"condition": {"test": "datum.value % 100 == 0", "value": "#c2c2c2"}, "value": "#e5e5e5"}, "gridWidth": {"condition": {"test": "datum.value % 100 == 0", "value": 3.8}, "value": 1.9}}},
     "y": {"field": "d", "type": "quantitative", "scale": {"domain": [-0.00061, 0.013408], "nice": false, "zero": false}, "axis": {"values": [0,0.0025,0.005,0.0075,0.01,0.0125], "labels": false, "ticks": false, "title": null, "gridColor": {"condition": {"test": "abs(datum.value*200-round(datum.value*200))<0.01", "value": "#c2c2c2"}, "value": "#e5e5e5"}, "gridWidth": {"condition": {"test": "abs(datum.value*200-round(datum.value*200))<0.01", "value": 3.8}, "value": 1.9}}},
     "color": {"field": "o", "type": "nominal", "title": "Observer"},
     "strokeDash": {"field": "o", "type": "nominal", "title": "Observer", "scale": {"range": [[1,0],[9,7],[16,8],[16,16],[4,12],[4,12,16,12],[28,12],[8,8,24,8],[4,8,8,8,12,8,16,8],[60,8,32,8]]}}}}
  ]},
  {"width": 64.5, "height": 299, "data": {"values": [{"t": "2018"}]}, "mark": {"type": "text", "fontSize": 33, "color": "#1a1a1a", "angle": 90}, "encoding": {"text": {"field": "t"}}, "view": {"fill": "#c4c4c4", "stroke": "#333333", "strokeWidth": 2.5}}
 ]}
]}
]
}
